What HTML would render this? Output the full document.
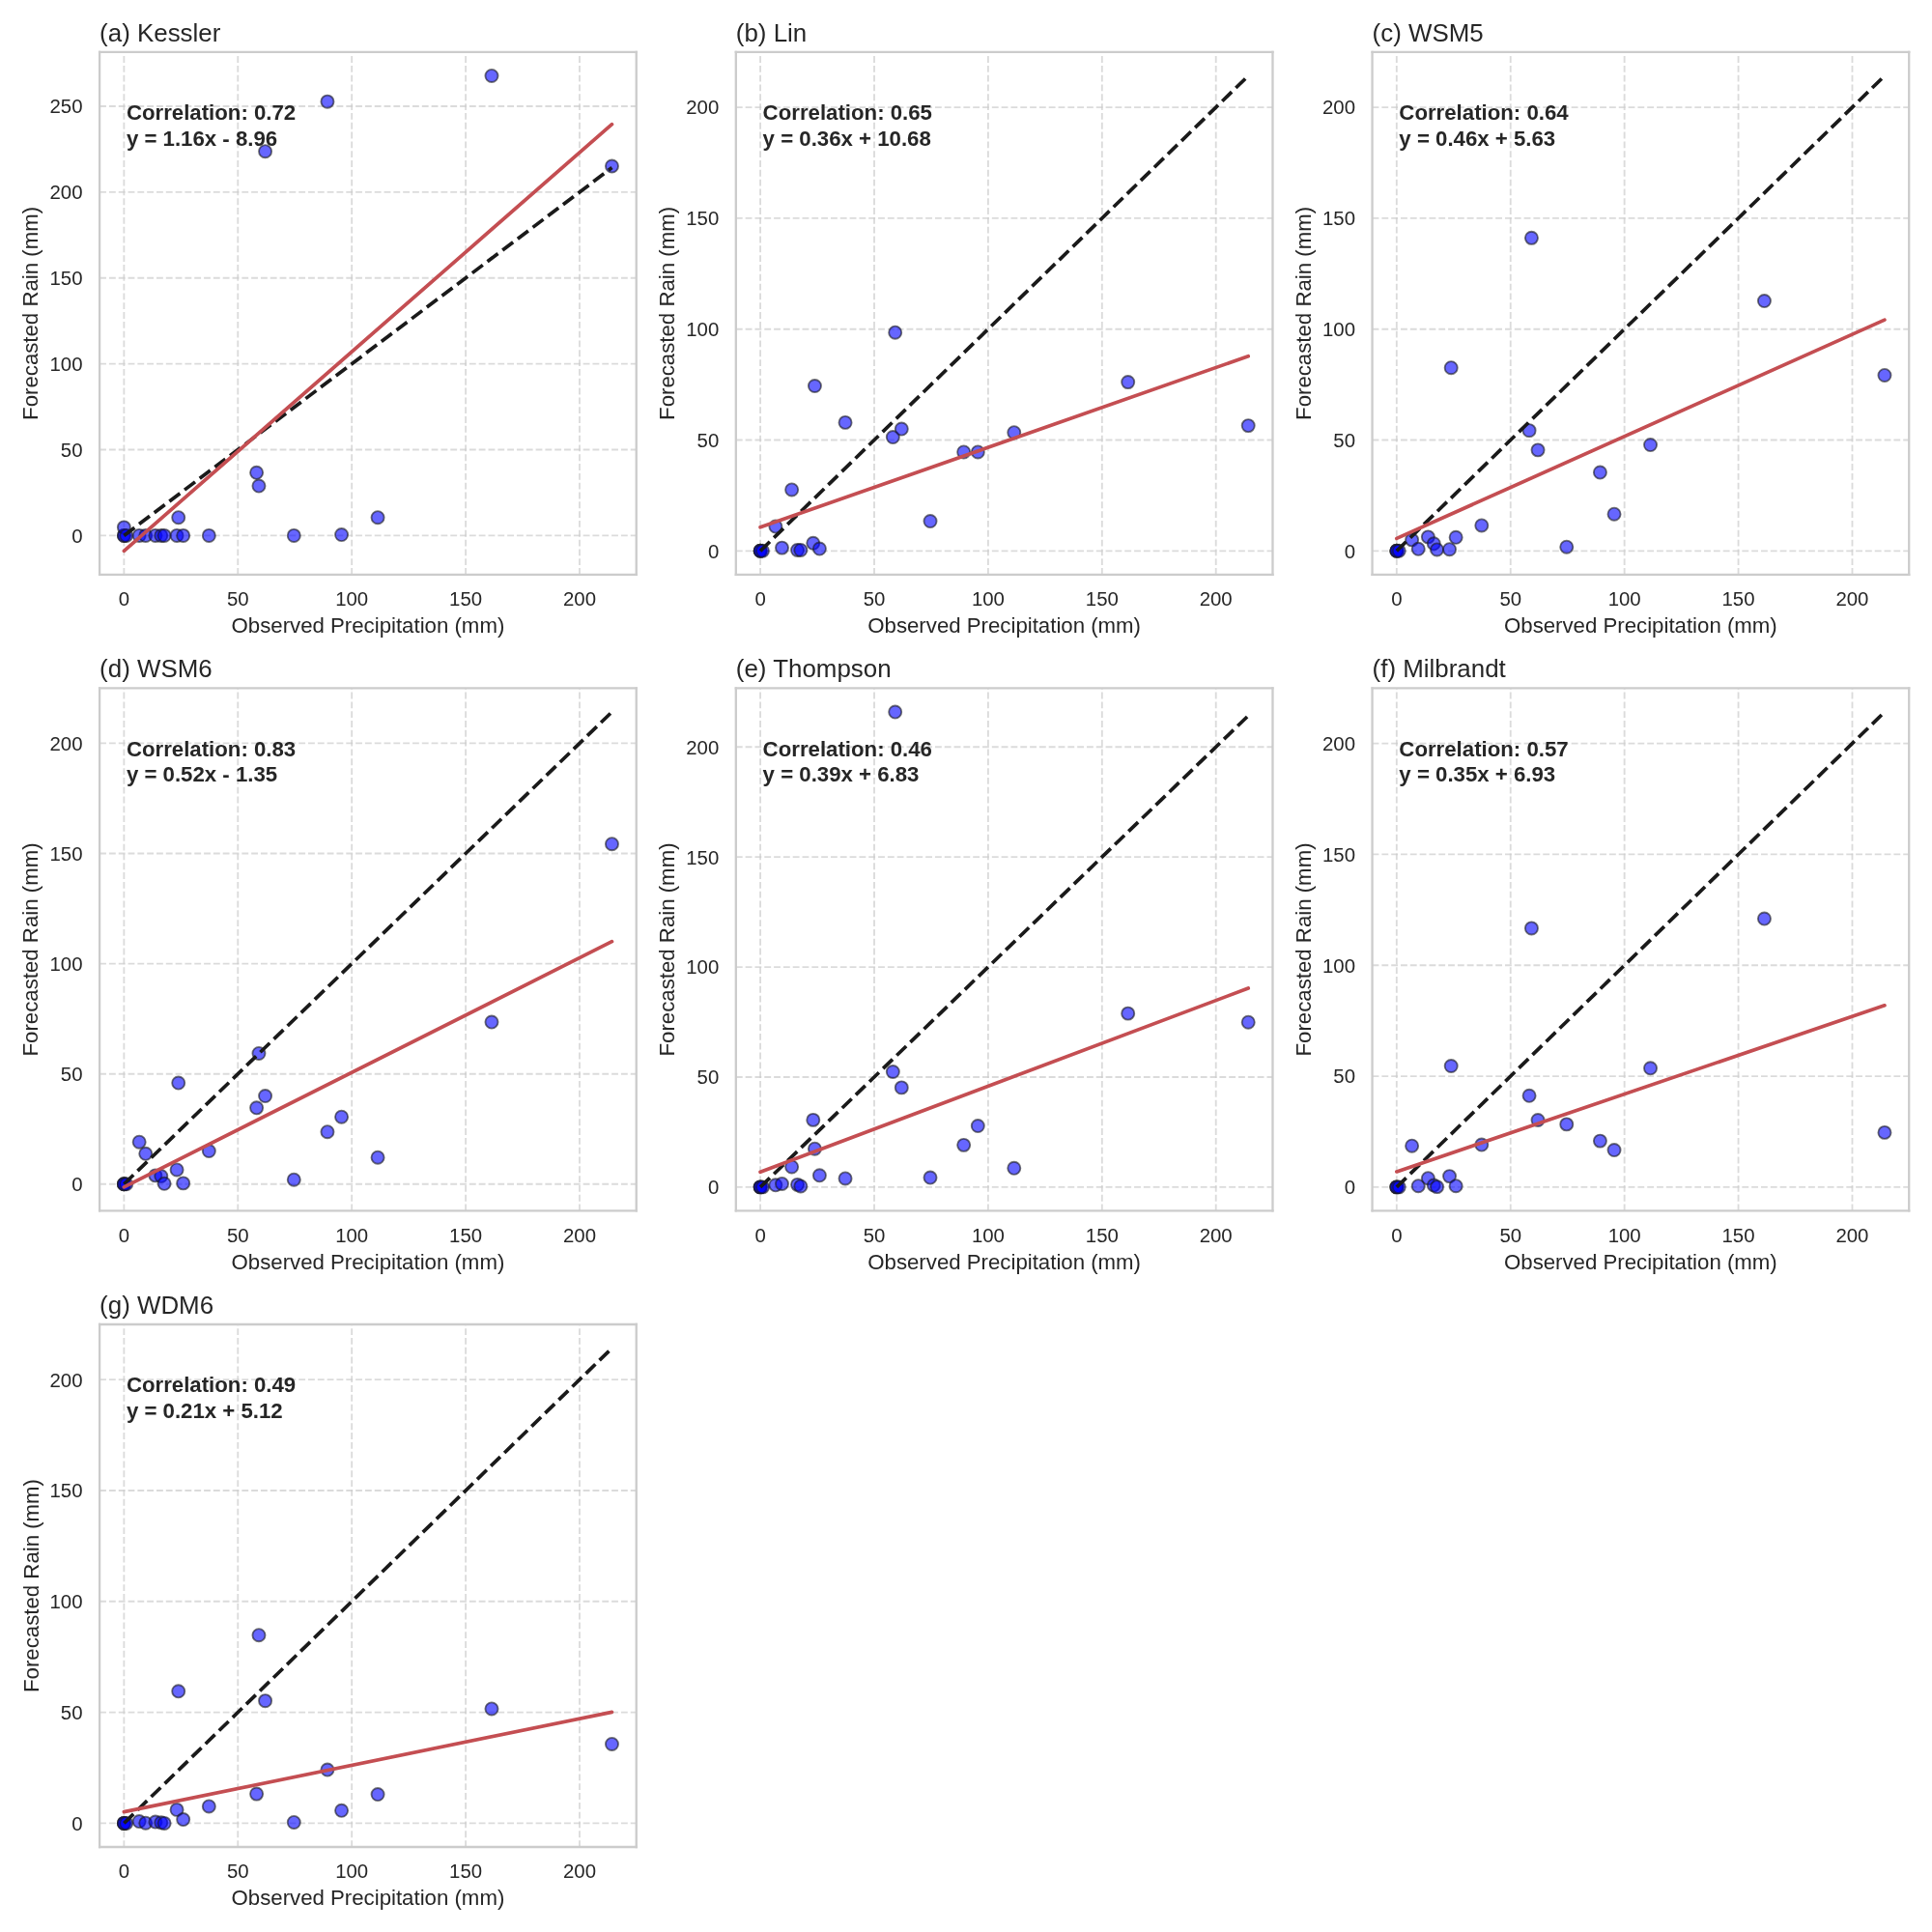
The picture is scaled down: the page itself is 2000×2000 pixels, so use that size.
<!DOCTYPE html>
<html><head><meta charset="utf-8"><title>Precipitation scatter</title>
<style>html,body{margin:0;padding:0;background:#fff;width:2000px;height:2000px;overflow:hidden;font-family:"Liberation Sans",sans-serif}</style></head><body>
<svg width="2000" height="2000" viewBox="0 0 1080 1080" style="display:block;filter:blur(0.4px)">
<defs>
<style type="text/css">*{stroke-linejoin: round; stroke-linecap: butt}</style>
</defs>
<g id="figure_1">
<g id="patch_1">
<path d="M 0 1080
L 1080 1080
L 1080 0
L 0 0
z
" style="fill: #ffffff"/>
</g>
<g id="axes_1">
<g id="patch_2">
<path d="M 55.674 321.261
L 355.714 321.261
L 355.714 29.106
L 55.674 29.106
z
" style="fill: #ffffff"/>
</g>
<g id="matplotlib.axis_1">
<g id="xtick_1">
<g id="line2d_1">
<path d="M 69.312 321.261
L 69.312 29.106
" clip-path="url(#p3a5844b324)" style="fill: none; stroke-dasharray: 3.7,1.6; stroke-dashoffset: 0; stroke: #cccccc; stroke-opacity: 0.7"/>
</g>
<g id="text_1">
<text style="font-size: 11px; font-family: &quot;Liberation Sans&quot;, sans-serif; text-anchor: middle; fill: #262626" x="69.312" y="338.733" transform="rotate(-0 69.312 338.733)">0</text>
</g>
</g>
<g id="xtick_2">
<g id="line2d_2">
<path d="M 132.982 321.261
L 132.982 29.106
" clip-path="url(#p3a5844b324)" style="fill: none; stroke-dasharray: 3.7,1.6; stroke-dashoffset: 0; stroke: #cccccc; stroke-opacity: 0.7"/>
</g>
<g id="text_2">
<text style="font-size: 11px; font-family: &quot;Liberation Sans&quot;, sans-serif; text-anchor: middle; fill: #262626" x="132.982" y="338.733" transform="rotate(-0 132.982 338.733)">50</text>
</g>
</g>
<g id="xtick_3">
<g id="line2d_3">
<path d="M 196.652 321.261
L 196.652 29.106
" clip-path="url(#p3a5844b324)" style="fill: none; stroke-dasharray: 3.7,1.6; stroke-dashoffset: 0; stroke: #cccccc; stroke-opacity: 0.7"/>
</g>
<g id="text_3">
<text style="font-size: 11px; font-family: &quot;Liberation Sans&quot;, sans-serif; text-anchor: middle; fill: #262626" x="196.652" y="338.733" transform="rotate(-0 196.652 338.733)">100</text>
</g>
</g>
<g id="xtick_4">
<g id="line2d_4">
<path d="M 260.323 321.261
L 260.323 29.106
" clip-path="url(#p3a5844b324)" style="fill: none; stroke-dasharray: 3.7,1.6; stroke-dashoffset: 0; stroke: #cccccc; stroke-opacity: 0.7"/>
</g>
<g id="text_4">
<text style="font-size: 11px; font-family: &quot;Liberation Sans&quot;, sans-serif; text-anchor: middle; fill: #262626" x="260.323" y="338.733" transform="rotate(-0 260.323 338.733)">150</text>
</g>
</g>
<g id="xtick_5">
<g id="line2d_5">
<path d="M 323.993 321.261
L 323.993 29.106
" clip-path="url(#p3a5844b324)" style="fill: none; stroke-dasharray: 3.7,1.6; stroke-dashoffset: 0; stroke: #cccccc; stroke-opacity: 0.7"/>
</g>
<g id="text_5">
<text style="font-size: 11px; font-family: &quot;Liberation Sans&quot;, sans-serif; text-anchor: middle; fill: #262626" x="323.993" y="338.733" transform="rotate(-0 323.993 338.733)">200</text>
</g>
</g>
<g id="text_6">
<text style="font-size: 12px; font-family: &quot;Liberation Sans&quot;, sans-serif; text-anchor: middle; fill: #262626" x="205.694" y="353.712" transform="rotate(-0 205.694 353.712)">Observed Precipitation (mm)</text>
</g>
</g>
<g id="matplotlib.axis_2">
<g id="ytick_1">
<g id="line2d_6">
<path d="M 55.674 299.380
L 355.714 299.380
" clip-path="url(#p3a5844b324)" style="fill: none; stroke-dasharray: 3.7,1.6; stroke-dashoffset: 0; stroke: #cccccc; stroke-opacity: 0.7"/>
</g>
<g id="text_7">
<text style="font-size: 11px; font-family: &quot;Liberation Sans&quot;, sans-serif; text-anchor: end; fill: #262626" x="46.174" y="303.366" transform="rotate(-0 46.174 303.366)">0</text>
</g>
</g>
<g id="ytick_2">
<g id="line2d_7">
<path d="M 55.674 251.379
L 355.714 251.379
" clip-path="url(#p3a5844b324)" style="fill: none; stroke-dasharray: 3.7,1.6; stroke-dashoffset: 0; stroke: #cccccc; stroke-opacity: 0.7"/>
</g>
<g id="text_8">
<text style="font-size: 11px; font-family: &quot;Liberation Sans&quot;, sans-serif; text-anchor: end; fill: #262626" x="46.174" y="255.365" transform="rotate(-0 46.174 255.365)">50</text>
</g>
</g>
<g id="ytick_3">
<g id="line2d_8">
<path d="M 55.674 203.379
L 355.714 203.379
" clip-path="url(#p3a5844b324)" style="fill: none; stroke-dasharray: 3.7,1.6; stroke-dashoffset: 0; stroke: #cccccc; stroke-opacity: 0.7"/>
</g>
<g id="text_9">
<text style="font-size: 11px; font-family: &quot;Liberation Sans&quot;, sans-serif; text-anchor: end; fill: #262626" x="46.174" y="207.365" transform="rotate(-0 46.174 207.365)">100</text>
</g>
</g>
<g id="ytick_4">
<g id="line2d_9">
<path d="M 55.674 155.378
L 355.714 155.378
" clip-path="url(#p3a5844b324)" style="fill: none; stroke-dasharray: 3.7,1.6; stroke-dashoffset: 0; stroke: #cccccc; stroke-opacity: 0.7"/>
</g>
<g id="text_10">
<text style="font-size: 11px; font-family: &quot;Liberation Sans&quot;, sans-serif; text-anchor: end; fill: #262626" x="46.174" y="159.364" transform="rotate(-0 46.174 159.364)">150</text>
</g>
</g>
<g id="ytick_5">
<g id="line2d_10">
<path d="M 55.674 107.378
L 355.714 107.378
" clip-path="url(#p3a5844b324)" style="fill: none; stroke-dasharray: 3.7,1.6; stroke-dashoffset: 0; stroke: #cccccc; stroke-opacity: 0.7"/>
</g>
<g id="text_11">
<text style="font-size: 11px; font-family: &quot;Liberation Sans&quot;, sans-serif; text-anchor: end; fill: #262626" x="46.174" y="111.364" transform="rotate(-0 46.174 111.364)">200</text>
</g>
</g>
<g id="ytick_6">
<g id="line2d_11">
<path d="M 55.674 59.377
L 355.714 59.377
" clip-path="url(#p3a5844b324)" style="fill: none; stroke-dasharray: 3.7,1.6; stroke-dashoffset: 0; stroke: #cccccc; stroke-opacity: 0.7"/>
</g>
<g id="text_12">
<text style="font-size: 11px; font-family: &quot;Liberation Sans&quot;, sans-serif; text-anchor: end; fill: #262626" x="46.174" y="63.363" transform="rotate(-0 46.174 63.363)">250</text>
</g>
</g>
<g id="text_13">
<text style="font-size: 12px; font-family: &quot;Liberation Sans&quot;, sans-serif; text-anchor: middle; fill: #262626" x="21.332" y="175.183" transform="rotate(-90 21.332 175.183)">Forecasted Rain (mm)</text>
</g>
</g>
<g id="PathCollection_1">
<defs>
<path id="m00bd419677" d="M 0 3.535
C 0.937 3.535 1.836 3.163 2.5 2.5
C 3.163 1.836 3.535 0.937 3.535 0
C 3.535 -0.937 3.163 -1.836 2.5 -2.5
C 1.836 -3.163 0.937 -3.535 0 -3.535
C -0.937 -3.535 -1.836 -3.163 -2.5 -2.5
C -3.163 -1.836 -3.535 -0.937 -3.535 0
C -3.535 0.937 -3.163 1.836 -2.5 2.5
C -1.836 3.163 -0.937 3.535 0 3.535
z
" style="stroke: #1a1a1a; stroke-opacity: 0.6"/>
</defs>
<g clip-path="url(#p3a5844b324)">
<use href="#m00bd419677" x="69.312" y="299.380" style="fill: #0000ff; fill-opacity: 0.6; stroke: #1a1a1a; stroke-opacity: 0.6"/>
<use href="#m00bd419677" x="69.312" y="299.380" style="fill: #0000ff; fill-opacity: 0.6; stroke: #1a1a1a; stroke-opacity: 0.6"/>
<use href="#m00bd419677" x="69.312" y="294.772" style="fill: #0000ff; fill-opacity: 0.6; stroke: #1a1a1a; stroke-opacity: 0.6"/>
<use href="#m00bd419677" x="70.585" y="299.380" style="fill: #0000ff; fill-opacity: 0.6; stroke: #1a1a1a; stroke-opacity: 0.6"/>
<use href="#m00bd419677" x="77.844" y="299.380" style="fill: #0000ff; fill-opacity: 0.6; stroke: #1a1a1a; stroke-opacity: 0.6"/>
<use href="#m00bd419677" x="81.409" y="299.380" style="fill: #0000ff; fill-opacity: 0.6; stroke: #1a1a1a; stroke-opacity: 0.6"/>
<use href="#m00bd419677" x="86.885" y="299.380" style="fill: #0000ff; fill-opacity: 0.6; stroke: #1a1a1a; stroke-opacity: 0.6"/>
<use href="#m00bd419677" x="90.068" y="299.380" style="fill: #0000ff; fill-opacity: 0.6; stroke: #1a1a1a; stroke-opacity: 0.6"/>
<use href="#m00bd419677" x="91.851" y="299.380" style="fill: #0000ff; fill-opacity: 0.6; stroke: #1a1a1a; stroke-opacity: 0.6"/>
<use href="#m00bd419677" x="98.855" y="299.380" style="fill: #0000ff; fill-opacity: 0.6; stroke: #1a1a1a; stroke-opacity: 0.6"/>
<use href="#m00bd419677" x="99.746" y="289.300" style="fill: #0000ff; fill-opacity: 0.6; stroke: #1a1a1a; stroke-opacity: 0.6"/>
<use href="#m00bd419677" x="102.420" y="299.380" style="fill: #0000ff; fill-opacity: 0.6; stroke: #1a1a1a; stroke-opacity: 0.6"/>
<use href="#m00bd419677" x="116.810" y="299.380" style="fill: #0000ff; fill-opacity: 0.6; stroke: #1a1a1a; stroke-opacity: 0.6"/>
<use href="#m00bd419677" x="143.424" y="264.243" style="fill: #0000ff; fill-opacity: 0.6; stroke: #1a1a1a; stroke-opacity: 0.6"/>
<use href="#m00bd419677" x="144.697" y="271.635" style="fill: #0000ff; fill-opacity: 0.6; stroke: #1a1a1a; stroke-opacity: 0.6"/>
<use href="#m00bd419677" x="148.263" y="84.626" style="fill: #0000ff; fill-opacity: 0.6; stroke: #1a1a1a; stroke-opacity: 0.6"/>
<use href="#m00bd419677" x="164.308" y="299.380" style="fill: #0000ff; fill-opacity: 0.6; stroke: #1a1a1a; stroke-opacity: 0.6"/>
<use href="#m00bd419677" x="183.027" y="56.785" style="fill: #0000ff; fill-opacity: 0.6; stroke: #1a1a1a; stroke-opacity: 0.6"/>
<use href="#m00bd419677" x="190.922" y="298.900" style="fill: #0000ff; fill-opacity: 0.6; stroke: #1a1a1a; stroke-opacity: 0.6"/>
<use href="#m00bd419677" x="211.169" y="289.300" style="fill: #0000ff; fill-opacity: 0.6; stroke: #1a1a1a; stroke-opacity: 0.6"/>
<use href="#m00bd419677" x="274.839" y="42.385" style="fill: #0000ff; fill-opacity: 0.6; stroke: #1a1a1a; stroke-opacity: 0.6"/>
<use href="#m00bd419677" x="342.075" y="92.882" style="fill: #0000ff; fill-opacity: 0.6; stroke: #1a1a1a; stroke-opacity: 0.6"/>
</g>
</g>
<g id="line2d_12">
<path d="M 69.312 299.380
L 342.075 93.746
" clip-path="url(#p3a5844b324)" style="fill: none; stroke-dasharray: 7.4,3.2; stroke-dashoffset: 0; stroke: #1a1a1a; stroke-width: 2"/>
</g>
<g id="line2d_13">
<path d="M 69.312 307.981
L 342.075 69.446
" clip-path="url(#p3a5844b324)" style="fill: none; stroke: #c44e52; stroke-width: 2; stroke-linecap: round"/>
</g>
<g id="patch_3">
<path d="M 55.674 321.261
L 55.674 29.106
" style="fill: none; stroke: #cccccc; stroke-width: 1.25; stroke-linejoin: miter; stroke-linecap: square"/>
</g>
<g id="patch_4">
<path d="M 355.714 321.261
L 355.714 29.106
" style="fill: none; stroke: #cccccc; stroke-width: 1.25; stroke-linejoin: miter; stroke-linecap: square"/>
</g>
<g id="patch_5">
<path d="M 55.674 321.261
L 355.714 321.261
" style="fill: none; stroke: #cccccc; stroke-width: 1.25; stroke-linejoin: miter; stroke-linecap: square"/>
</g>
<g id="patch_6">
<path d="M 55.674 29.106
L 355.714 29.106
" style="fill: none; stroke: #cccccc; stroke-width: 1.25; stroke-linejoin: miter; stroke-linecap: square"/>
</g>
<g id="text_14">
<text style="font-weight: 700; font-size: 12px; font-family: &quot;Liberation Sans&quot;, sans-serif; fill: #262626" transform="translate(70.676 67.017)">Correlation: 0.72</text>
<text style="font-weight: 700; font-size: 12px; font-family: &quot;Liberation Sans&quot;, sans-serif; fill: #262626" transform="translate(70.676 81.403)">y = 1.16x - 8.96</text>
</g>
<g id="text_15">
<text style="font-size: 14px; font-family: &quot;Liberation Sans&quot;, sans-serif; text-anchor: start; fill: #262626" x="55.674" y="23.106" transform="rotate(-0 55.674 23.106)">(a) Kessler</text>
</g>
</g>
<g id="axes_2">
<g id="patch_7">
<path d="M 411.390 321.261
L 711.431 321.261
L 711.431 29.106
L 411.390 29.106
z
" style="fill: #ffffff"/>
</g>
<g id="matplotlib.axis_3">
<g id="xtick_6">
<g id="line2d_14">
<path d="M 425.029 321.261
L 425.029 29.106
" clip-path="url(#p59430c2ce2)" style="fill: none; stroke-dasharray: 3.7,1.6; stroke-dashoffset: 0; stroke: #cccccc; stroke-opacity: 0.7"/>
</g>
<g id="text_16">
<text style="font-size: 11px; font-family: &quot;Liberation Sans&quot;, sans-serif; text-anchor: middle; fill: #262626" x="425.029" y="338.733" transform="rotate(-0 425.029 338.733)">0</text>
</g>
</g>
<g id="xtick_7">
<g id="line2d_15">
<path d="M 488.699 321.261
L 488.699 29.106
" clip-path="url(#p59430c2ce2)" style="fill: none; stroke-dasharray: 3.7,1.6; stroke-dashoffset: 0; stroke: #cccccc; stroke-opacity: 0.7"/>
</g>
<g id="text_17">
<text style="font-size: 11px; font-family: &quot;Liberation Sans&quot;, sans-serif; text-anchor: middle; fill: #262626" x="488.699" y="338.733" transform="rotate(-0 488.699 338.733)">50</text>
</g>
</g>
<g id="xtick_8">
<g id="line2d_16">
<path d="M 552.369 321.261
L 552.369 29.106
" clip-path="url(#p59430c2ce2)" style="fill: none; stroke-dasharray: 3.7,1.6; stroke-dashoffset: 0; stroke: #cccccc; stroke-opacity: 0.7"/>
</g>
<g id="text_18">
<text style="font-size: 11px; font-family: &quot;Liberation Sans&quot;, sans-serif; text-anchor: middle; fill: #262626" x="552.369" y="338.733" transform="rotate(-0 552.369 338.733)">100</text>
</g>
</g>
<g id="xtick_9">
<g id="line2d_17">
<path d="M 616.040 321.261
L 616.040 29.106
" clip-path="url(#p59430c2ce2)" style="fill: none; stroke-dasharray: 3.7,1.6; stroke-dashoffset: 0; stroke: #cccccc; stroke-opacity: 0.7"/>
</g>
<g id="text_19">
<text style="font-size: 11px; font-family: &quot;Liberation Sans&quot;, sans-serif; text-anchor: middle; fill: #262626" x="616.040" y="338.733" transform="rotate(-0 616.040 338.733)">150</text>
</g>
</g>
<g id="xtick_10">
<g id="line2d_18">
<path d="M 679.710 321.261
L 679.710 29.106
" clip-path="url(#p59430c2ce2)" style="fill: none; stroke-dasharray: 3.7,1.6; stroke-dashoffset: 0; stroke: #cccccc; stroke-opacity: 0.7"/>
</g>
<g id="text_20">
<text style="font-size: 11px; font-family: &quot;Liberation Sans&quot;, sans-serif; text-anchor: middle; fill: #262626" x="679.710" y="338.733" transform="rotate(-0 679.710 338.733)">200</text>
</g>
</g>
<g id="text_21">
<text style="font-size: 12px; font-family: &quot;Liberation Sans&quot;, sans-serif; text-anchor: middle; fill: #262626" x="561.411" y="353.712" transform="rotate(-0 561.411 353.712)">Observed Precipitation (mm)</text>
</g>
</g>
<g id="matplotlib.axis_4">
<g id="ytick_7">
<g id="line2d_19">
<path d="M 411.390 307.981
L 711.431 307.981
" clip-path="url(#p59430c2ce2)" style="fill: none; stroke-dasharray: 3.7,1.6; stroke-dashoffset: 0; stroke: #cccccc; stroke-opacity: 0.7"/>
</g>
<g id="text_22">
<text style="font-size: 11px; font-family: &quot;Liberation Sans&quot;, sans-serif; text-anchor: end; fill: #262626" x="401.890" y="311.967" transform="rotate(-0 401.890 311.967)">0</text>
</g>
</g>
<g id="ytick_8">
<g id="line2d_20">
<path d="M 411.390 245.984
L 711.431 245.984
" clip-path="url(#p59430c2ce2)" style="fill: none; stroke-dasharray: 3.7,1.6; stroke-dashoffset: 0; stroke: #cccccc; stroke-opacity: 0.7"/>
</g>
<g id="text_23">
<text style="font-size: 11px; font-family: &quot;Liberation Sans&quot;, sans-serif; text-anchor: end; fill: #262626" x="401.890" y="249.970" transform="rotate(-0 401.890 249.970)">50</text>
</g>
</g>
<g id="ytick_9">
<g id="line2d_21">
<path d="M 411.390 183.987
L 711.431 183.987
" clip-path="url(#p59430c2ce2)" style="fill: none; stroke-dasharray: 3.7,1.6; stroke-dashoffset: 0; stroke: #cccccc; stroke-opacity: 0.7"/>
</g>
<g id="text_24">
<text style="font-size: 11px; font-family: &quot;Liberation Sans&quot;, sans-serif; text-anchor: end; fill: #262626" x="401.890" y="187.973" transform="rotate(-0 401.890 187.973)">100</text>
</g>
</g>
<g id="ytick_10">
<g id="line2d_22">
<path d="M 411.390 121.990
L 711.431 121.990
" clip-path="url(#p59430c2ce2)" style="fill: none; stroke-dasharray: 3.7,1.6; stroke-dashoffset: 0; stroke: #cccccc; stroke-opacity: 0.7"/>
</g>
<g id="text_25">
<text style="font-size: 11px; font-family: &quot;Liberation Sans&quot;, sans-serif; text-anchor: end; fill: #262626" x="401.890" y="125.976" transform="rotate(-0 401.890 125.976)">150</text>
</g>
</g>
<g id="ytick_11">
<g id="line2d_23">
<path d="M 411.390 59.993
L 711.431 59.993
" clip-path="url(#p59430c2ce2)" style="fill: none; stroke-dasharray: 3.7,1.6; stroke-dashoffset: 0; stroke: #cccccc; stroke-opacity: 0.7"/>
</g>
<g id="text_26">
<text style="font-size: 11px; font-family: &quot;Liberation Sans&quot;, sans-serif; text-anchor: end; fill: #262626" x="401.890" y="63.978" transform="rotate(-0 401.890 63.978)">200</text>
</g>
</g>
<g id="text_27">
<text style="font-size: 12px; font-family: &quot;Liberation Sans&quot;, sans-serif; text-anchor: middle; fill: #262626" x="377.049" y="175.183" transform="rotate(-90 377.049 175.183)">Forecasted Rain (mm)</text>
</g>
</g>
<g id="PathCollection_2">
<g clip-path="url(#p59430c2ce2)">
<use href="#m00bd419677" x="425.029" y="307.981" style="fill: #0000ff; fill-opacity: 0.6; stroke: #1a1a1a; stroke-opacity: 0.6"/>
<use href="#m00bd419677" x="425.029" y="307.981" style="fill: #0000ff; fill-opacity: 0.6; stroke: #1a1a1a; stroke-opacity: 0.6"/>
<use href="#m00bd419677" x="425.029" y="307.981" style="fill: #0000ff; fill-opacity: 0.6; stroke: #1a1a1a; stroke-opacity: 0.6"/>
<use href="#m00bd419677" x="426.302" y="307.981" style="fill: #0000ff; fill-opacity: 0.6; stroke: #1a1a1a; stroke-opacity: 0.6"/>
<use href="#m00bd419677" x="433.560" y="294.342" style="fill: #0000ff; fill-opacity: 0.6; stroke: #1a1a1a; stroke-opacity: 0.6"/>
<use href="#m00bd419677" x="437.126" y="306.245" style="fill: #0000ff; fill-opacity: 0.6; stroke: #1a1a1a; stroke-opacity: 0.6"/>
<use href="#m00bd419677" x="442.602" y="273.759" style="fill: #0000ff; fill-opacity: 0.6; stroke: #1a1a1a; stroke-opacity: 0.6"/>
<use href="#m00bd419677" x="445.785" y="307.485" style="fill: #0000ff; fill-opacity: 0.6; stroke: #1a1a1a; stroke-opacity: 0.6"/>
<use href="#m00bd419677" x="447.568" y="307.485" style="fill: #0000ff; fill-opacity: 0.6; stroke: #1a1a1a; stroke-opacity: 0.6"/>
<use href="#m00bd419677" x="454.572" y="303.642" style="fill: #0000ff; fill-opacity: 0.6; stroke: #1a1a1a; stroke-opacity: 0.6"/>
<use href="#m00bd419677" x="455.463" y="215.730" style="fill: #0000ff; fill-opacity: 0.6; stroke: #1a1a1a; stroke-opacity: 0.6"/>
<use href="#m00bd419677" x="458.137" y="306.741" style="fill: #0000ff; fill-opacity: 0.6; stroke: #1a1a1a; stroke-opacity: 0.6"/>
<use href="#m00bd419677" x="472.527" y="236.189" style="fill: #0000ff; fill-opacity: 0.6; stroke: #1a1a1a; stroke-opacity: 0.6"/>
<use href="#m00bd419677" x="499.141" y="244.372" style="fill: #0000ff; fill-opacity: 0.6; stroke: #1a1a1a; stroke-opacity: 0.6"/>
<use href="#m00bd419677" x="500.414" y="185.847" style="fill: #0000ff; fill-opacity: 0.6; stroke: #1a1a1a; stroke-opacity: 0.6"/>
<use href="#m00bd419677" x="503.980" y="239.784" style="fill: #0000ff; fill-opacity: 0.6; stroke: #1a1a1a; stroke-opacity: 0.6"/>
<use href="#m00bd419677" x="520.025" y="291.366" style="fill: #0000ff; fill-opacity: 0.6; stroke: #1a1a1a; stroke-opacity: 0.6"/>
<use href="#m00bd419677" x="538.744" y="252.680" style="fill: #0000ff; fill-opacity: 0.6; stroke: #1a1a1a; stroke-opacity: 0.6"/>
<use href="#m00bd419677" x="546.639" y="252.680" style="fill: #0000ff; fill-opacity: 0.6; stroke: #1a1a1a; stroke-opacity: 0.6"/>
<use href="#m00bd419677" x="566.886" y="241.768" style="fill: #0000ff; fill-opacity: 0.6; stroke: #1a1a1a; stroke-opacity: 0.6"/>
<use href="#m00bd419677" x="630.556" y="213.622" style="fill: #0000ff; fill-opacity: 0.6; stroke: #1a1a1a; stroke-opacity: 0.6"/>
<use href="#m00bd419677" x="697.792" y="237.925" style="fill: #0000ff; fill-opacity: 0.6; stroke: #1a1a1a; stroke-opacity: 0.6"/>
</g>
</g>
<g id="line2d_24">
<path d="M 425.029 307.981
L 697.792 42.385
" clip-path="url(#p59430c2ce2)" style="fill: none; stroke-dasharray: 7.4,3.2; stroke-dashoffset: 0; stroke: #1a1a1a; stroke-width: 2"/>
</g>
<g id="line2d_25">
<path d="M 425.029 294.739
L 697.792 199.124
" clip-path="url(#p59430c2ce2)" style="fill: none; stroke: #c44e52; stroke-width: 2; stroke-linecap: round"/>
</g>
<g id="patch_8">
<path d="M 411.390 321.261
L 411.390 29.106
" style="fill: none; stroke: #cccccc; stroke-width: 1.25; stroke-linejoin: miter; stroke-linecap: square"/>
</g>
<g id="patch_9">
<path d="M 711.431 321.261
L 711.431 29.106
" style="fill: none; stroke: #cccccc; stroke-width: 1.25; stroke-linejoin: miter; stroke-linecap: square"/>
</g>
<g id="patch_10">
<path d="M 411.390 321.261
L 711.431 321.261
" style="fill: none; stroke: #cccccc; stroke-width: 1.25; stroke-linejoin: miter; stroke-linecap: square"/>
</g>
<g id="patch_11">
<path d="M 411.390 29.106
L 711.431 29.106
" style="fill: none; stroke: #cccccc; stroke-width: 1.25; stroke-linejoin: miter; stroke-linecap: square"/>
</g>
<g id="text_28">
<text style="font-weight: 700; font-size: 12px; font-family: &quot;Liberation Sans&quot;, sans-serif; fill: #262626" transform="translate(426.392 67.017)">Correlation: 0.65</text>
<text style="font-weight: 700; font-size: 12px; font-family: &quot;Liberation Sans&quot;, sans-serif; fill: #262626" transform="translate(426.392 81.403)">y = 0.36x + 10.68</text>
</g>
<g id="text_29">
<text style="font-size: 14px; font-family: &quot;Liberation Sans&quot;, sans-serif; text-anchor: start; fill: #262626" x="411.390" y="23.106" transform="rotate(-0 411.390 23.106)">(b) Lin</text>
</g>
</g>
<g id="axes_3">
<g id="patch_12">
<path d="M 767.107 321.261
L 1067.148 321.261
L 1067.148 29.106
L 767.107 29.106
z
" style="fill: #ffffff"/>
</g>
<g id="matplotlib.axis_5">
<g id="xtick_11">
<g id="line2d_26">
<path d="M 780.746 321.261
L 780.746 29.106
" clip-path="url(#p351b5c5604)" style="fill: none; stroke-dasharray: 3.7,1.6; stroke-dashoffset: 0; stroke: #cccccc; stroke-opacity: 0.7"/>
</g>
<g id="text_30">
<text style="font-size: 11px; font-family: &quot;Liberation Sans&quot;, sans-serif; text-anchor: middle; fill: #262626" x="780.746" y="338.733" transform="rotate(-0 780.746 338.733)">0</text>
</g>
</g>
<g id="xtick_12">
<g id="line2d_27">
<path d="M 844.416 321.261
L 844.416 29.106
" clip-path="url(#p351b5c5604)" style="fill: none; stroke-dasharray: 3.7,1.6; stroke-dashoffset: 0; stroke: #cccccc; stroke-opacity: 0.7"/>
</g>
<g id="text_31">
<text style="font-size: 11px; font-family: &quot;Liberation Sans&quot;, sans-serif; text-anchor: middle; fill: #262626" x="844.416" y="338.733" transform="rotate(-0 844.416 338.733)">50</text>
</g>
</g>
<g id="xtick_13">
<g id="line2d_28">
<path d="M 908.086 321.261
L 908.086 29.106
" clip-path="url(#p351b5c5604)" style="fill: none; stroke-dasharray: 3.7,1.6; stroke-dashoffset: 0; stroke: #cccccc; stroke-opacity: 0.7"/>
</g>
<g id="text_32">
<text style="font-size: 11px; font-family: &quot;Liberation Sans&quot;, sans-serif; text-anchor: middle; fill: #262626" x="908.086" y="338.733" transform="rotate(-0 908.086 338.733)">100</text>
</g>
</g>
<g id="xtick_14">
<g id="line2d_29">
<path d="M 971.757 321.261
L 971.757 29.106
" clip-path="url(#p351b5c5604)" style="fill: none; stroke-dasharray: 3.7,1.6; stroke-dashoffset: 0; stroke: #cccccc; stroke-opacity: 0.7"/>
</g>
<g id="text_33">
<text style="font-size: 11px; font-family: &quot;Liberation Sans&quot;, sans-serif; text-anchor: middle; fill: #262626" x="971.757" y="338.733" transform="rotate(-0 971.757 338.733)">150</text>
</g>
</g>
<g id="xtick_15">
<g id="line2d_30">
<path d="M 1035.427 321.261
L 1035.427 29.106
" clip-path="url(#p351b5c5604)" style="fill: none; stroke-dasharray: 3.7,1.6; stroke-dashoffset: 0; stroke: #cccccc; stroke-opacity: 0.7"/>
</g>
<g id="text_34">
<text style="font-size: 11px; font-family: &quot;Liberation Sans&quot;, sans-serif; text-anchor: middle; fill: #262626" x="1035.427" y="338.733" transform="rotate(-0 1035.427 338.733)">200</text>
</g>
</g>
<g id="text_35">
<text style="font-size: 12px; font-family: &quot;Liberation Sans&quot;, sans-serif; text-anchor: middle; fill: #262626" x="917.127" y="353.712" transform="rotate(-0 917.127 353.712)">Observed Precipitation (mm)</text>
</g>
</g>
<g id="matplotlib.axis_6">
<g id="ytick_12">
<g id="line2d_31">
<path d="M 767.107 307.981
L 1067.148 307.981
" clip-path="url(#p351b5c5604)" style="fill: none; stroke-dasharray: 3.7,1.6; stroke-dashoffset: 0; stroke: #cccccc; stroke-opacity: 0.7"/>
</g>
<g id="text_36">
<text style="font-size: 11px; font-family: &quot;Liberation Sans&quot;, sans-serif; text-anchor: end; fill: #262626" x="757.607" y="311.967" transform="rotate(-0 757.607 311.967)">0</text>
</g>
</g>
<g id="ytick_13">
<g id="line2d_32">
<path d="M 767.107 245.984
L 1067.148 245.984
" clip-path="url(#p351b5c5604)" style="fill: none; stroke-dasharray: 3.7,1.6; stroke-dashoffset: 0; stroke: #cccccc; stroke-opacity: 0.7"/>
</g>
<g id="text_37">
<text style="font-size: 11px; font-family: &quot;Liberation Sans&quot;, sans-serif; text-anchor: end; fill: #262626" x="757.607" y="249.970" transform="rotate(-0 757.607 249.970)">50</text>
</g>
</g>
<g id="ytick_14">
<g id="line2d_33">
<path d="M 767.107 183.987
L 1067.148 183.987
" clip-path="url(#p351b5c5604)" style="fill: none; stroke-dasharray: 3.7,1.6; stroke-dashoffset: 0; stroke: #cccccc; stroke-opacity: 0.7"/>
</g>
<g id="text_38">
<text style="font-size: 11px; font-family: &quot;Liberation Sans&quot;, sans-serif; text-anchor: end; fill: #262626" x="757.607" y="187.973" transform="rotate(-0 757.607 187.973)">100</text>
</g>
</g>
<g id="ytick_15">
<g id="line2d_34">
<path d="M 767.107 121.990
L 1067.148 121.990
" clip-path="url(#p351b5c5604)" style="fill: none; stroke-dasharray: 3.7,1.6; stroke-dashoffset: 0; stroke: #cccccc; stroke-opacity: 0.7"/>
</g>
<g id="text_39">
<text style="font-size: 11px; font-family: &quot;Liberation Sans&quot;, sans-serif; text-anchor: end; fill: #262626" x="757.607" y="125.976" transform="rotate(-0 757.607 125.976)">150</text>
</g>
</g>
<g id="ytick_16">
<g id="line2d_35">
<path d="M 767.107 59.993
L 1067.148 59.993
" clip-path="url(#p351b5c5604)" style="fill: none; stroke-dasharray: 3.7,1.6; stroke-dashoffset: 0; stroke: #cccccc; stroke-opacity: 0.7"/>
</g>
<g id="text_40">
<text style="font-size: 11px; font-family: &quot;Liberation Sans&quot;, sans-serif; text-anchor: end; fill: #262626" x="757.607" y="63.978" transform="rotate(-0 757.607 63.978)">200</text>
</g>
</g>
<g id="text_41">
<text style="font-size: 12px; font-family: &quot;Liberation Sans&quot;, sans-serif; text-anchor: middle; fill: #262626" x="732.766" y="175.183" transform="rotate(-90 732.766 175.183)">Forecasted Rain (mm)</text>
</g>
</g>
<g id="PathCollection_3">
<g clip-path="url(#p351b5c5604)">
<use href="#m00bd419677" x="780.746" y="307.981" style="fill: #0000ff; fill-opacity: 0.6; stroke: #1a1a1a; stroke-opacity: 0.6"/>
<use href="#m00bd419677" x="780.746" y="307.981" style="fill: #0000ff; fill-opacity: 0.6; stroke: #1a1a1a; stroke-opacity: 0.6"/>
<use href="#m00bd419677" x="780.746" y="307.981" style="fill: #0000ff; fill-opacity: 0.6; stroke: #1a1a1a; stroke-opacity: 0.6"/>
<use href="#m00bd419677" x="782.019" y="307.981" style="fill: #0000ff; fill-opacity: 0.6; stroke: #1a1a1a; stroke-opacity: 0.6"/>
<use href="#m00bd419677" x="789.277" y="301.782" style="fill: #0000ff; fill-opacity: 0.6; stroke: #1a1a1a; stroke-opacity: 0.6"/>
<use href="#m00bd419677" x="792.843" y="306.865" style="fill: #0000ff; fill-opacity: 0.6; stroke: #1a1a1a; stroke-opacity: 0.6"/>
<use href="#m00bd419677" x="798.319" y="300.170" style="fill: #0000ff; fill-opacity: 0.6; stroke: #1a1a1a; stroke-opacity: 0.6"/>
<use href="#m00bd419677" x="801.502" y="303.890" style="fill: #0000ff; fill-opacity: 0.6; stroke: #1a1a1a; stroke-opacity: 0.6"/>
<use href="#m00bd419677" x="803.285" y="307.237" style="fill: #0000ff; fill-opacity: 0.6; stroke: #1a1a1a; stroke-opacity: 0.6"/>
<use href="#m00bd419677" x="810.289" y="307.113" style="fill: #0000ff; fill-opacity: 0.6; stroke: #1a1a1a; stroke-opacity: 0.6"/>
<use href="#m00bd419677" x="811.180" y="205.562" style="fill: #0000ff; fill-opacity: 0.6; stroke: #1a1a1a; stroke-opacity: 0.6"/>
<use href="#m00bd419677" x="813.854" y="300.418" style="fill: #0000ff; fill-opacity: 0.6; stroke: #1a1a1a; stroke-opacity: 0.6"/>
<use href="#m00bd419677" x="828.244" y="293.722" style="fill: #0000ff; fill-opacity: 0.6; stroke: #1a1a1a; stroke-opacity: 0.6"/>
<use href="#m00bd419677" x="854.858" y="240.652" style="fill: #0000ff; fill-opacity: 0.6; stroke: #1a1a1a; stroke-opacity: 0.6"/>
<use href="#m00bd419677" x="856.131" y="133.025" style="fill: #0000ff; fill-opacity: 0.6; stroke: #1a1a1a; stroke-opacity: 0.6"/>
<use href="#m00bd419677" x="859.697" y="251.564" style="fill: #0000ff; fill-opacity: 0.6; stroke: #1a1a1a; stroke-opacity: 0.6"/>
<use href="#m00bd419677" x="875.742" y="305.750" style="fill: #0000ff; fill-opacity: 0.6; stroke: #1a1a1a; stroke-opacity: 0.6"/>
<use href="#m00bd419677" x="894.461" y="264.087" style="fill: #0000ff; fill-opacity: 0.6; stroke: #1a1a1a; stroke-opacity: 0.6"/>
<use href="#m00bd419677" x="902.356" y="287.398" style="fill: #0000ff; fill-opacity: 0.6; stroke: #1a1a1a; stroke-opacity: 0.6"/>
<use href="#m00bd419677" x="922.603" y="248.712" style="fill: #0000ff; fill-opacity: 0.6; stroke: #1a1a1a; stroke-opacity: 0.6"/>
<use href="#m00bd419677" x="986.273" y="168.240" style="fill: #0000ff; fill-opacity: 0.6; stroke: #1a1a1a; stroke-opacity: 0.6"/>
<use href="#m00bd419677" x="1053.509" y="209.778" style="fill: #0000ff; fill-opacity: 0.6; stroke: #1a1a1a; stroke-opacity: 0.6"/>
</g>
</g>
<g id="line2d_36">
<path d="M 780.746 307.981
L 1053.509 42.385
" clip-path="url(#p351b5c5604)" style="fill: none; stroke-dasharray: 7.4,3.2; stroke-dashoffset: 0; stroke: #1a1a1a; stroke-width: 2"/>
</g>
<g id="line2d_37">
<path d="M 780.746 301.001
L 1053.509 178.826
" clip-path="url(#p351b5c5604)" style="fill: none; stroke: #c44e52; stroke-width: 2; stroke-linecap: round"/>
</g>
<g id="patch_13">
<path d="M 767.107 321.261
L 767.107 29.106
" style="fill: none; stroke: #cccccc; stroke-width: 1.25; stroke-linejoin: miter; stroke-linecap: square"/>
</g>
<g id="patch_14">
<path d="M 1067.148 321.261
L 1067.148 29.106
" style="fill: none; stroke: #cccccc; stroke-width: 1.25; stroke-linejoin: miter; stroke-linecap: square"/>
</g>
<g id="patch_15">
<path d="M 767.107 321.261
L 1067.148 321.261
" style="fill: none; stroke: #cccccc; stroke-width: 1.25; stroke-linejoin: miter; stroke-linecap: square"/>
</g>
<g id="patch_16">
<path d="M 767.107 29.106
L 1067.148 29.106
" style="fill: none; stroke: #cccccc; stroke-width: 1.25; stroke-linejoin: miter; stroke-linecap: square"/>
</g>
<g id="text_42">
<text style="font-weight: 700; font-size: 12px; font-family: &quot;Liberation Sans&quot;, sans-serif; fill: #262626" transform="translate(782.109 67.017)">Correlation: 0.64</text>
<text style="font-weight: 700; font-size: 12px; font-family: &quot;Liberation Sans&quot;, sans-serif; fill: #262626" transform="translate(782.109 81.403)">y = 0.46x + 5.63</text>
</g>
<g id="text_43">
<text style="font-size: 14px; font-family: &quot;Liberation Sans&quot;, sans-serif; text-anchor: start; fill: #262626" x="767.107" y="23.106" transform="rotate(-0 767.107 23.106)">(c) WSM5</text>
</g>
</g>
<g id="axes_4">
<g id="patch_17">
<path d="M 55.674 676.870
L 355.714 676.870
L 355.714 384.715
L 55.674 384.715
z
" style="fill: #ffffff"/>
</g>
<g id="matplotlib.axis_7">
<g id="xtick_16">
<g id="line2d_38">
<path d="M 69.312 676.870
L 69.312 384.715
" clip-path="url(#p59bc74c339)" style="fill: none; stroke-dasharray: 3.7,1.6; stroke-dashoffset: 0; stroke: #cccccc; stroke-opacity: 0.7"/>
</g>
<g id="text_44">
<text style="font-size: 11px; font-family: &quot;Liberation Sans&quot;, sans-serif; text-anchor: middle; fill: #262626" x="69.312" y="694.342" transform="rotate(-0 69.312 694.342)">0</text>
</g>
</g>
<g id="xtick_17">
<g id="line2d_39">
<path d="M 132.982 676.870
L 132.982 384.715
" clip-path="url(#p59bc74c339)" style="fill: none; stroke-dasharray: 3.7,1.6; stroke-dashoffset: 0; stroke: #cccccc; stroke-opacity: 0.7"/>
</g>
<g id="text_45">
<text style="font-size: 11px; font-family: &quot;Liberation Sans&quot;, sans-serif; text-anchor: middle; fill: #262626" x="132.982" y="694.342" transform="rotate(-0 132.982 694.342)">50</text>
</g>
</g>
<g id="xtick_18">
<g id="line2d_40">
<path d="M 196.652 676.870
L 196.652 384.715
" clip-path="url(#p59bc74c339)" style="fill: none; stroke-dasharray: 3.7,1.6; stroke-dashoffset: 0; stroke: #cccccc; stroke-opacity: 0.7"/>
</g>
<g id="text_46">
<text style="font-size: 11px; font-family: &quot;Liberation Sans&quot;, sans-serif; text-anchor: middle; fill: #262626" x="196.652" y="694.342" transform="rotate(-0 196.652 694.342)">100</text>
</g>
</g>
<g id="xtick_19">
<g id="line2d_41">
<path d="M 260.323 676.870
L 260.323 384.715
" clip-path="url(#p59bc74c339)" style="fill: none; stroke-dasharray: 3.7,1.6; stroke-dashoffset: 0; stroke: #cccccc; stroke-opacity: 0.7"/>
</g>
<g id="text_47">
<text style="font-size: 11px; font-family: &quot;Liberation Sans&quot;, sans-serif; text-anchor: middle; fill: #262626" x="260.323" y="694.342" transform="rotate(-0 260.323 694.342)">150</text>
</g>
</g>
<g id="xtick_20">
<g id="line2d_42">
<path d="M 323.993 676.870
L 323.993 384.715
" clip-path="url(#p59bc74c339)" style="fill: none; stroke-dasharray: 3.7,1.6; stroke-dashoffset: 0; stroke: #cccccc; stroke-opacity: 0.7"/>
</g>
<g id="text_48">
<text style="font-size: 11px; font-family: &quot;Liberation Sans&quot;, sans-serif; text-anchor: middle; fill: #262626" x="323.993" y="694.342" transform="rotate(-0 323.993 694.342)">200</text>
</g>
</g>
<g id="text_49">
<text style="font-size: 12px; font-family: &quot;Liberation Sans&quot;, sans-serif; text-anchor: middle; fill: #262626" x="205.694" y="709.321" transform="rotate(-0 205.694 709.321)">Observed Precipitation (mm)</text>
</g>
</g>
<g id="matplotlib.axis_8">
<g id="ytick_17">
<g id="line2d_43">
<path d="M 55.674 661.927
L 355.714 661.927
" clip-path="url(#p59bc74c339)" style="fill: none; stroke-dasharray: 3.7,1.6; stroke-dashoffset: 0; stroke: #cccccc; stroke-opacity: 0.7"/>
</g>
<g id="text_50">
<text style="font-size: 11px; font-family: &quot;Liberation Sans&quot;, sans-serif; text-anchor: end; fill: #262626" x="46.174" y="665.913" transform="rotate(-0 46.174 665.913)">0</text>
</g>
</g>
<g id="ytick_18">
<g id="line2d_44">
<path d="M 55.674 600.318
L 355.714 600.318
" clip-path="url(#p59bc74c339)" style="fill: none; stroke-dasharray: 3.7,1.6; stroke-dashoffset: 0; stroke: #cccccc; stroke-opacity: 0.7"/>
</g>
<g id="text_51">
<text style="font-size: 11px; font-family: &quot;Liberation Sans&quot;, sans-serif; text-anchor: end; fill: #262626" x="46.174" y="604.304" transform="rotate(-0 46.174 604.304)">50</text>
</g>
</g>
<g id="ytick_19">
<g id="line2d_45">
<path d="M 55.674 538.709
L 355.714 538.709
" clip-path="url(#p59bc74c339)" style="fill: none; stroke-dasharray: 3.7,1.6; stroke-dashoffset: 0; stroke: #cccccc; stroke-opacity: 0.7"/>
</g>
<g id="text_52">
<text style="font-size: 11px; font-family: &quot;Liberation Sans&quot;, sans-serif; text-anchor: end; fill: #262626" x="46.174" y="542.695" transform="rotate(-0 46.174 542.695)">100</text>
</g>
</g>
<g id="ytick_20">
<g id="line2d_46">
<path d="M 55.674 477.100
L 355.714 477.100
" clip-path="url(#p59bc74c339)" style="fill: none; stroke-dasharray: 3.7,1.6; stroke-dashoffset: 0; stroke: #cccccc; stroke-opacity: 0.7"/>
</g>
<g id="text_53">
<text style="font-size: 11px; font-family: &quot;Liberation Sans&quot;, sans-serif; text-anchor: end; fill: #262626" x="46.174" y="481.086" transform="rotate(-0 46.174 481.086)">150</text>
</g>
</g>
<g id="ytick_21">
<g id="line2d_47">
<path d="M 55.674 415.491
L 355.714 415.491
" clip-path="url(#p59bc74c339)" style="fill: none; stroke-dasharray: 3.7,1.6; stroke-dashoffset: 0; stroke: #cccccc; stroke-opacity: 0.7"/>
</g>
<g id="text_54">
<text style="font-size: 11px; font-family: &quot;Liberation Sans&quot;, sans-serif; text-anchor: end; fill: #262626" x="46.174" y="419.477" transform="rotate(-0 46.174 419.477)">200</text>
</g>
</g>
<g id="text_55">
<text style="font-size: 12px; font-family: &quot;Liberation Sans&quot;, sans-serif; text-anchor: middle; fill: #262626" x="21.332" y="530.793" transform="rotate(-90 21.332 530.793)">Forecasted Rain (mm)</text>
</g>
</g>
<g id="PathCollection_4">
<g clip-path="url(#p59bc74c339)">
<use href="#m00bd419677" x="69.312" y="661.927" style="fill: #0000ff; fill-opacity: 0.6; stroke: #1a1a1a; stroke-opacity: 0.6"/>
<use href="#m00bd419677" x="69.312" y="661.927" style="fill: #0000ff; fill-opacity: 0.6; stroke: #1a1a1a; stroke-opacity: 0.6"/>
<use href="#m00bd419677" x="69.312" y="661.927" style="fill: #0000ff; fill-opacity: 0.6; stroke: #1a1a1a; stroke-opacity: 0.6"/>
<use href="#m00bd419677" x="70.585" y="661.927" style="fill: #0000ff; fill-opacity: 0.6; stroke: #1a1a1a; stroke-opacity: 0.6"/>
<use href="#m00bd419677" x="77.844" y="638.393" style="fill: #0000ff; fill-opacity: 0.6; stroke: #1a1a1a; stroke-opacity: 0.6"/>
<use href="#m00bd419677" x="81.409" y="644.923" style="fill: #0000ff; fill-opacity: 0.6; stroke: #1a1a1a; stroke-opacity: 0.6"/>
<use href="#m00bd419677" x="86.885" y="657.122" style="fill: #0000ff; fill-opacity: 0.6; stroke: #1a1a1a; stroke-opacity: 0.6"/>
<use href="#m00bd419677" x="90.068" y="657.491" style="fill: #0000ff; fill-opacity: 0.6; stroke: #1a1a1a; stroke-opacity: 0.6"/>
<use href="#m00bd419677" x="91.851" y="661.681" style="fill: #0000ff; fill-opacity: 0.6; stroke: #1a1a1a; stroke-opacity: 0.6"/>
<use href="#m00bd419677" x="98.855" y="653.918" style="fill: #0000ff; fill-opacity: 0.6; stroke: #1a1a1a; stroke-opacity: 0.6"/>
<use href="#m00bd419677" x="99.746" y="605.370" style="fill: #0000ff; fill-opacity: 0.6; stroke: #1a1a1a; stroke-opacity: 0.6"/>
<use href="#m00bd419677" x="102.420" y="661.434" style="fill: #0000ff; fill-opacity: 0.6; stroke: #1a1a1a; stroke-opacity: 0.6"/>
<use href="#m00bd419677" x="116.810" y="643.444" style="fill: #0000ff; fill-opacity: 0.6; stroke: #1a1a1a; stroke-opacity: 0.6"/>
<use href="#m00bd419677" x="143.424" y="619.294" style="fill: #0000ff; fill-opacity: 0.6; stroke: #1a1a1a; stroke-opacity: 0.6"/>
<use href="#m00bd419677" x="144.697" y="588.859" style="fill: #0000ff; fill-opacity: 0.6; stroke: #1a1a1a; stroke-opacity: 0.6"/>
<use href="#m00bd419677" x="148.263" y="612.640" style="fill: #0000ff; fill-opacity: 0.6; stroke: #1a1a1a; stroke-opacity: 0.6"/>
<use href="#m00bd419677" x="164.308" y="659.463" style="fill: #0000ff; fill-opacity: 0.6; stroke: #1a1a1a; stroke-opacity: 0.6"/>
<use href="#m00bd419677" x="183.027" y="632.724" style="fill: #0000ff; fill-opacity: 0.6; stroke: #1a1a1a; stroke-opacity: 0.6"/>
<use href="#m00bd419677" x="190.922" y="624.346" style="fill: #0000ff; fill-opacity: 0.6; stroke: #1a1a1a; stroke-opacity: 0.6"/>
<use href="#m00bd419677" x="211.169" y="647.018" style="fill: #0000ff; fill-opacity: 0.6; stroke: #1a1a1a; stroke-opacity: 0.6"/>
<use href="#m00bd419677" x="274.839" y="571.362" style="fill: #0000ff; fill-opacity: 0.6; stroke: #1a1a1a; stroke-opacity: 0.6"/>
<use href="#m00bd419677" x="342.075" y="471.802" style="fill: #0000ff; fill-opacity: 0.6; stroke: #1a1a1a; stroke-opacity: 0.6"/>
</g>
</g>
<g id="line2d_48">
<path d="M 69.312 661.927
L 342.075 397.994
" clip-path="url(#p59bc74c339)" style="fill: none; stroke-dasharray: 7.4,3.2; stroke-dashoffset: 0; stroke: #1a1a1a; stroke-width: 2"/>
</g>
<g id="line2d_49">
<path d="M 69.312 663.591
L 342.075 526.346
" clip-path="url(#p59bc74c339)" style="fill: none; stroke: #c44e52; stroke-width: 2; stroke-linecap: round"/>
</g>
<g id="patch_18">
<path d="M 55.674 676.870
L 55.674 384.715
" style="fill: none; stroke: #cccccc; stroke-width: 1.25; stroke-linejoin: miter; stroke-linecap: square"/>
</g>
<g id="patch_19">
<path d="M 355.714 676.870
L 355.714 384.715
" style="fill: none; stroke: #cccccc; stroke-width: 1.25; stroke-linejoin: miter; stroke-linecap: square"/>
</g>
<g id="patch_20">
<path d="M 55.674 676.870
L 355.714 676.870
" style="fill: none; stroke: #cccccc; stroke-width: 1.25; stroke-linejoin: miter; stroke-linecap: square"/>
</g>
<g id="patch_21">
<path d="M 55.674 384.715
L 355.714 384.715
" style="fill: none; stroke: #cccccc; stroke-width: 1.25; stroke-linejoin: miter; stroke-linecap: square"/>
</g>
<g id="text_56">
<text style="font-weight: 700; font-size: 12px; font-family: &quot;Liberation Sans&quot;, sans-serif; fill: #262626" transform="translate(70.676 422.626)">Correlation: 0.83</text>
<text style="font-weight: 700; font-size: 12px; font-family: &quot;Liberation Sans&quot;, sans-serif; fill: #262626" transform="translate(70.676 437.012)">y = 0.52x - 1.35</text>
</g>
<g id="text_57">
<text style="font-size: 14px; font-family: &quot;Liberation Sans&quot;, sans-serif; text-anchor: start; fill: #262626" x="55.674" y="378.715" transform="rotate(-0 55.674 378.715)">(d) WSM6</text>
</g>
</g>
<g id="axes_5">
<g id="patch_22">
<path d="M 411.390 676.870
L 711.431 676.870
L 711.431 384.715
L 411.390 384.715
z
" style="fill: #ffffff"/>
</g>
<g id="matplotlib.axis_9">
<g id="xtick_21">
<g id="line2d_50">
<path d="M 425.029 676.870
L 425.029 384.715
" clip-path="url(#pccd5e48ada)" style="fill: none; stroke-dasharray: 3.7,1.6; stroke-dashoffset: 0; stroke: #cccccc; stroke-opacity: 0.7"/>
</g>
<g id="text_58">
<text style="font-size: 11px; font-family: &quot;Liberation Sans&quot;, sans-serif; text-anchor: middle; fill: #262626" x="425.029" y="694.342" transform="rotate(-0 425.029 694.342)">0</text>
</g>
</g>
<g id="xtick_22">
<g id="line2d_51">
<path d="M 488.699 676.870
L 488.699 384.715
" clip-path="url(#pccd5e48ada)" style="fill: none; stroke-dasharray: 3.7,1.6; stroke-dashoffset: 0; stroke: #cccccc; stroke-opacity: 0.7"/>
</g>
<g id="text_59">
<text style="font-size: 11px; font-family: &quot;Liberation Sans&quot;, sans-serif; text-anchor: middle; fill: #262626" x="488.699" y="694.342" transform="rotate(-0 488.699 694.342)">50</text>
</g>
</g>
<g id="xtick_23">
<g id="line2d_52">
<path d="M 552.369 676.870
L 552.369 384.715
" clip-path="url(#pccd5e48ada)" style="fill: none; stroke-dasharray: 3.7,1.6; stroke-dashoffset: 0; stroke: #cccccc; stroke-opacity: 0.7"/>
</g>
<g id="text_60">
<text style="font-size: 11px; font-family: &quot;Liberation Sans&quot;, sans-serif; text-anchor: middle; fill: #262626" x="552.369" y="694.342" transform="rotate(-0 552.369 694.342)">100</text>
</g>
</g>
<g id="xtick_24">
<g id="line2d_53">
<path d="M 616.040 676.870
L 616.040 384.715
" clip-path="url(#pccd5e48ada)" style="fill: none; stroke-dasharray: 3.7,1.6; stroke-dashoffset: 0; stroke: #cccccc; stroke-opacity: 0.7"/>
</g>
<g id="text_61">
<text style="font-size: 11px; font-family: &quot;Liberation Sans&quot;, sans-serif; text-anchor: middle; fill: #262626" x="616.040" y="694.342" transform="rotate(-0 616.040 694.342)">150</text>
</g>
</g>
<g id="xtick_25">
<g id="line2d_54">
<path d="M 679.710 676.870
L 679.710 384.715
" clip-path="url(#pccd5e48ada)" style="fill: none; stroke-dasharray: 3.7,1.6; stroke-dashoffset: 0; stroke: #cccccc; stroke-opacity: 0.7"/>
</g>
<g id="text_62">
<text style="font-size: 11px; font-family: &quot;Liberation Sans&quot;, sans-serif; text-anchor: middle; fill: #262626" x="679.710" y="694.342" transform="rotate(-0 679.710 694.342)">200</text>
</g>
</g>
<g id="text_63">
<text style="font-size: 12px; font-family: &quot;Liberation Sans&quot;, sans-serif; text-anchor: middle; fill: #262626" x="561.411" y="709.321" transform="rotate(-0 561.411 709.321)">Observed Precipitation (mm)</text>
</g>
</g>
<g id="matplotlib.axis_10">
<g id="ytick_22">
<g id="line2d_55">
<path d="M 411.390 663.591
L 711.431 663.591
" clip-path="url(#pccd5e48ada)" style="fill: none; stroke-dasharray: 3.7,1.6; stroke-dashoffset: 0; stroke: #cccccc; stroke-opacity: 0.7"/>
</g>
<g id="text_64">
<text style="font-size: 11px; font-family: &quot;Liberation Sans&quot;, sans-serif; text-anchor: end; fill: #262626" x="401.890" y="667.576" transform="rotate(-0 401.890 667.576)">0</text>
</g>
</g>
<g id="ytick_23">
<g id="line2d_56">
<path d="M 411.390 602.081
L 711.431 602.081
" clip-path="url(#pccd5e48ada)" style="fill: none; stroke-dasharray: 3.7,1.6; stroke-dashoffset: 0; stroke: #cccccc; stroke-opacity: 0.7"/>
</g>
<g id="text_65">
<text style="font-size: 11px; font-family: &quot;Liberation Sans&quot;, sans-serif; text-anchor: end; fill: #262626" x="401.890" y="606.067" transform="rotate(-0 401.890 606.067)">50</text>
</g>
</g>
<g id="ytick_24">
<g id="line2d_57">
<path d="M 411.390 540.572
L 711.431 540.572
" clip-path="url(#pccd5e48ada)" style="fill: none; stroke-dasharray: 3.7,1.6; stroke-dashoffset: 0; stroke: #cccccc; stroke-opacity: 0.7"/>
</g>
<g id="text_66">
<text style="font-size: 11px; font-family: &quot;Liberation Sans&quot;, sans-serif; text-anchor: end; fill: #262626" x="401.890" y="544.558" transform="rotate(-0 401.890 544.558)">100</text>
</g>
</g>
<g id="ytick_25">
<g id="line2d_58">
<path d="M 411.390 479.063
L 711.431 479.063
" clip-path="url(#pccd5e48ada)" style="fill: none; stroke-dasharray: 3.7,1.6; stroke-dashoffset: 0; stroke: #cccccc; stroke-opacity: 0.7"/>
</g>
<g id="text_67">
<text style="font-size: 11px; font-family: &quot;Liberation Sans&quot;, sans-serif; text-anchor: end; fill: #262626" x="401.890" y="483.049" transform="rotate(-0 401.890 483.049)">150</text>
</g>
</g>
<g id="ytick_26">
<g id="line2d_59">
<path d="M 411.390 417.554
L 711.431 417.554
" clip-path="url(#pccd5e48ada)" style="fill: none; stroke-dasharray: 3.7,1.6; stroke-dashoffset: 0; stroke: #cccccc; stroke-opacity: 0.7"/>
</g>
<g id="text_68">
<text style="font-size: 11px; font-family: &quot;Liberation Sans&quot;, sans-serif; text-anchor: end; fill: #262626" x="401.890" y="421.540" transform="rotate(-0 401.890 421.540)">200</text>
</g>
</g>
<g id="text_69">
<text style="font-size: 12px; font-family: &quot;Liberation Sans&quot;, sans-serif; text-anchor: middle; fill: #262626" x="377.049" y="530.793" transform="rotate(-90 377.049 530.793)">Forecasted Rain (mm)</text>
</g>
</g>
<g id="PathCollection_5">
<g clip-path="url(#pccd5e48ada)">
<use href="#m00bd419677" x="425.029" y="663.591" style="fill: #0000ff; fill-opacity: 0.6; stroke: #1a1a1a; stroke-opacity: 0.6"/>
<use href="#m00bd419677" x="425.029" y="663.591" style="fill: #0000ff; fill-opacity: 0.6; stroke: #1a1a1a; stroke-opacity: 0.6"/>
<use href="#m00bd419677" x="425.029" y="663.591" style="fill: #0000ff; fill-opacity: 0.6; stroke: #1a1a1a; stroke-opacity: 0.6"/>
<use href="#m00bd419677" x="426.302" y="663.591" style="fill: #0000ff; fill-opacity: 0.6; stroke: #1a1a1a; stroke-opacity: 0.6"/>
<use href="#m00bd419677" x="433.560" y="662.483" style="fill: #0000ff; fill-opacity: 0.6; stroke: #1a1a1a; stroke-opacity: 0.6"/>
<use href="#m00bd419677" x="437.126" y="661.745" style="fill: #0000ff; fill-opacity: 0.6; stroke: #1a1a1a; stroke-opacity: 0.6"/>
<use href="#m00bd419677" x="442.602" y="652.273" style="fill: #0000ff; fill-opacity: 0.6; stroke: #1a1a1a; stroke-opacity: 0.6"/>
<use href="#m00bd419677" x="445.785" y="662.237" style="fill: #0000ff; fill-opacity: 0.6; stroke: #1a1a1a; stroke-opacity: 0.6"/>
<use href="#m00bd419677" x="447.568" y="663.098" style="fill: #0000ff; fill-opacity: 0.6; stroke: #1a1a1a; stroke-opacity: 0.6"/>
<use href="#m00bd419677" x="454.572" y="626.070" style="fill: #0000ff; fill-opacity: 0.6; stroke: #1a1a1a; stroke-opacity: 0.6"/>
<use href="#m00bd419677" x="455.463" y="642.185" style="fill: #0000ff; fill-opacity: 0.6; stroke: #1a1a1a; stroke-opacity: 0.6"/>
<use href="#m00bd419677" x="458.137" y="657.071" style="fill: #0000ff; fill-opacity: 0.6; stroke: #1a1a1a; stroke-opacity: 0.6"/>
<use href="#m00bd419677" x="472.527" y="658.793" style="fill: #0000ff; fill-opacity: 0.6; stroke: #1a1a1a; stroke-opacity: 0.6"/>
<use href="#m00bd419677" x="499.141" y="599.129" style="fill: #0000ff; fill-opacity: 0.6; stroke: #1a1a1a; stroke-opacity: 0.6"/>
<use href="#m00bd419677" x="500.414" y="397.994" style="fill: #0000ff; fill-opacity: 0.6; stroke: #1a1a1a; stroke-opacity: 0.6"/>
<use href="#m00bd419677" x="503.980" y="607.986" style="fill: #0000ff; fill-opacity: 0.6; stroke: #1a1a1a; stroke-opacity: 0.6"/>
<use href="#m00bd419677" x="520.025" y="658.301" style="fill: #0000ff; fill-opacity: 0.6; stroke: #1a1a1a; stroke-opacity: 0.6"/>
<use href="#m00bd419677" x="538.744" y="640.094" style="fill: #0000ff; fill-opacity: 0.6; stroke: #1a1a1a; stroke-opacity: 0.6"/>
<use href="#m00bd419677" x="546.639" y="629.392" style="fill: #0000ff; fill-opacity: 0.6; stroke: #1a1a1a; stroke-opacity: 0.6"/>
<use href="#m00bd419677" x="566.886" y="653.011" style="fill: #0000ff; fill-opacity: 0.6; stroke: #1a1a1a; stroke-opacity: 0.6"/>
<use href="#m00bd419677" x="630.556" y="566.529" style="fill: #0000ff; fill-opacity: 0.6; stroke: #1a1a1a; stroke-opacity: 0.6"/>
<use href="#m00bd419677" x="697.792" y="571.450" style="fill: #0000ff; fill-opacity: 0.6; stroke: #1a1a1a; stroke-opacity: 0.6"/>
</g>
</g>
<g id="line2d_60">
<path d="M 425.029 663.591
L 697.792 400.086
" clip-path="url(#pccd5e48ada)" style="fill: none; stroke-dasharray: 7.4,3.2; stroke-dashoffset: 0; stroke: #1a1a1a; stroke-width: 2"/>
</g>
<g id="line2d_61">
<path d="M 425.029 655.188
L 697.792 552.422
" clip-path="url(#pccd5e48ada)" style="fill: none; stroke: #c44e52; stroke-width: 2; stroke-linecap: round"/>
</g>
<g id="patch_23">
<path d="M 411.390 676.870
L 411.390 384.715
" style="fill: none; stroke: #cccccc; stroke-width: 1.25; stroke-linejoin: miter; stroke-linecap: square"/>
</g>
<g id="patch_24">
<path d="M 711.431 676.870
L 711.431 384.715
" style="fill: none; stroke: #cccccc; stroke-width: 1.25; stroke-linejoin: miter; stroke-linecap: square"/>
</g>
<g id="patch_25">
<path d="M 411.390 676.870
L 711.431 676.870
" style="fill: none; stroke: #cccccc; stroke-width: 1.25; stroke-linejoin: miter; stroke-linecap: square"/>
</g>
<g id="patch_26">
<path d="M 411.390 384.715
L 711.431 384.715
" style="fill: none; stroke: #cccccc; stroke-width: 1.25; stroke-linejoin: miter; stroke-linecap: square"/>
</g>
<g id="text_70">
<text style="font-weight: 700; font-size: 12px; font-family: &quot;Liberation Sans&quot;, sans-serif; fill: #262626" transform="translate(426.392 422.626)">Correlation: 0.46</text>
<text style="font-weight: 700; font-size: 12px; font-family: &quot;Liberation Sans&quot;, sans-serif; fill: #262626" transform="translate(426.392 437.012)">y = 0.39x + 6.83</text>
</g>
<g id="text_71">
<text style="font-size: 14px; font-family: &quot;Liberation Sans&quot;, sans-serif; text-anchor: start; fill: #262626" x="411.390" y="378.715" transform="rotate(-0 411.390 378.715)">(e) Thompson</text>
</g>
</g>
<g id="axes_6">
<g id="patch_27">
<path d="M 767.107 676.870
L 1067.148 676.870
L 1067.148 384.715
L 767.107 384.715
z
" style="fill: #ffffff"/>
</g>
<g id="matplotlib.axis_11">
<g id="xtick_26">
<g id="line2d_62">
<path d="M 780.746 676.870
L 780.746 384.715
" clip-path="url(#p912fd4ceb7)" style="fill: none; stroke-dasharray: 3.7,1.6; stroke-dashoffset: 0; stroke: #cccccc; stroke-opacity: 0.7"/>
</g>
<g id="text_72">
<text style="font-size: 11px; font-family: &quot;Liberation Sans&quot;, sans-serif; text-anchor: middle; fill: #262626" x="780.746" y="694.342" transform="rotate(-0 780.746 694.342)">0</text>
</g>
</g>
<g id="xtick_27">
<g id="line2d_63">
<path d="M 844.416 676.870
L 844.416 384.715
" clip-path="url(#p912fd4ceb7)" style="fill: none; stroke-dasharray: 3.7,1.6; stroke-dashoffset: 0; stroke: #cccccc; stroke-opacity: 0.7"/>
</g>
<g id="text_73">
<text style="font-size: 11px; font-family: &quot;Liberation Sans&quot;, sans-serif; text-anchor: middle; fill: #262626" x="844.416" y="694.342" transform="rotate(-0 844.416 694.342)">50</text>
</g>
</g>
<g id="xtick_28">
<g id="line2d_64">
<path d="M 908.086 676.870
L 908.086 384.715
" clip-path="url(#p912fd4ceb7)" style="fill: none; stroke-dasharray: 3.7,1.6; stroke-dashoffset: 0; stroke: #cccccc; stroke-opacity: 0.7"/>
</g>
<g id="text_74">
<text style="font-size: 11px; font-family: &quot;Liberation Sans&quot;, sans-serif; text-anchor: middle; fill: #262626" x="908.086" y="694.342" transform="rotate(-0 908.086 694.342)">100</text>
</g>
</g>
<g id="xtick_29">
<g id="line2d_65">
<path d="M 971.757 676.870
L 971.757 384.715
" clip-path="url(#p912fd4ceb7)" style="fill: none; stroke-dasharray: 3.7,1.6; stroke-dashoffset: 0; stroke: #cccccc; stroke-opacity: 0.7"/>
</g>
<g id="text_75">
<text style="font-size: 11px; font-family: &quot;Liberation Sans&quot;, sans-serif; text-anchor: middle; fill: #262626" x="971.757" y="694.342" transform="rotate(-0 971.757 694.342)">150</text>
</g>
</g>
<g id="xtick_30">
<g id="line2d_66">
<path d="M 1035.427 676.870
L 1035.427 384.715
" clip-path="url(#p912fd4ceb7)" style="fill: none; stroke-dasharray: 3.7,1.6; stroke-dashoffset: 0; stroke: #cccccc; stroke-opacity: 0.7"/>
</g>
<g id="text_76">
<text style="font-size: 11px; font-family: &quot;Liberation Sans&quot;, sans-serif; text-anchor: middle; fill: #262626" x="1035.427" y="694.342" transform="rotate(-0 1035.427 694.342)">200</text>
</g>
</g>
<g id="text_77">
<text style="font-size: 12px; font-family: &quot;Liberation Sans&quot;, sans-serif; text-anchor: middle; fill: #262626" x="917.127" y="709.321" transform="rotate(-0 917.127 709.321)">Observed Precipitation (mm)</text>
</g>
</g>
<g id="matplotlib.axis_12">
<g id="ytick_27">
<g id="line2d_67">
<path d="M 767.107 663.591
L 1067.148 663.591
" clip-path="url(#p912fd4ceb7)" style="fill: none; stroke-dasharray: 3.7,1.6; stroke-dashoffset: 0; stroke: #cccccc; stroke-opacity: 0.7"/>
</g>
<g id="text_78">
<text style="font-size: 11px; font-family: &quot;Liberation Sans&quot;, sans-serif; text-anchor: end; fill: #262626" x="757.607" y="667.576" transform="rotate(-0 757.607 667.576)">0</text>
</g>
</g>
<g id="ytick_28">
<g id="line2d_68">
<path d="M 767.107 601.593
L 1067.148 601.593
" clip-path="url(#p912fd4ceb7)" style="fill: none; stroke-dasharray: 3.7,1.6; stroke-dashoffset: 0; stroke: #cccccc; stroke-opacity: 0.7"/>
</g>
<g id="text_79">
<text style="font-size: 11px; font-family: &quot;Liberation Sans&quot;, sans-serif; text-anchor: end; fill: #262626" x="757.607" y="605.579" transform="rotate(-0 757.607 605.579)">50</text>
</g>
</g>
<g id="ytick_29">
<g id="line2d_69">
<path d="M 767.107 539.596
L 1067.148 539.596
" clip-path="url(#p912fd4ceb7)" style="fill: none; stroke-dasharray: 3.7,1.6; stroke-dashoffset: 0; stroke: #cccccc; stroke-opacity: 0.7"/>
</g>
<g id="text_80">
<text style="font-size: 11px; font-family: &quot;Liberation Sans&quot;, sans-serif; text-anchor: end; fill: #262626" x="757.607" y="543.582" transform="rotate(-0 757.607 543.582)">100</text>
</g>
</g>
<g id="ytick_30">
<g id="line2d_70">
<path d="M 767.107 477.599
L 1067.148 477.599
" clip-path="url(#p912fd4ceb7)" style="fill: none; stroke-dasharray: 3.7,1.6; stroke-dashoffset: 0; stroke: #cccccc; stroke-opacity: 0.7"/>
</g>
<g id="text_81">
<text style="font-size: 11px; font-family: &quot;Liberation Sans&quot;, sans-serif; text-anchor: end; fill: #262626" x="757.607" y="481.585" transform="rotate(-0 757.607 481.585)">150</text>
</g>
</g>
<g id="ytick_31">
<g id="line2d_71">
<path d="M 767.107 415.602
L 1067.148 415.602
" clip-path="url(#p912fd4ceb7)" style="fill: none; stroke-dasharray: 3.7,1.6; stroke-dashoffset: 0; stroke: #cccccc; stroke-opacity: 0.7"/>
</g>
<g id="text_82">
<text style="font-size: 11px; font-family: &quot;Liberation Sans&quot;, sans-serif; text-anchor: end; fill: #262626" x="757.607" y="419.587" transform="rotate(-0 757.607 419.587)">200</text>
</g>
</g>
<g id="text_83">
<text style="font-size: 12px; font-family: &quot;Liberation Sans&quot;, sans-serif; text-anchor: middle; fill: #262626" x="732.766" y="530.793" transform="rotate(-90 732.766 530.793)">Forecasted Rain (mm)</text>
</g>
</g>
<g id="PathCollection_6">
<g clip-path="url(#p912fd4ceb7)">
<use href="#m00bd419677" x="780.746" y="663.591" style="fill: #0000ff; fill-opacity: 0.6; stroke: #1a1a1a; stroke-opacity: 0.6"/>
<use href="#m00bd419677" x="780.746" y="663.591" style="fill: #0000ff; fill-opacity: 0.6; stroke: #1a1a1a; stroke-opacity: 0.6"/>
<use href="#m00bd419677" x="780.746" y="663.591" style="fill: #0000ff; fill-opacity: 0.6; stroke: #1a1a1a; stroke-opacity: 0.6"/>
<use href="#m00bd419677" x="782.019" y="663.591" style="fill: #0000ff; fill-opacity: 0.6; stroke: #1a1a1a; stroke-opacity: 0.6"/>
<use href="#m00bd419677" x="789.277" y="640.528" style="fill: #0000ff; fill-opacity: 0.6; stroke: #1a1a1a; stroke-opacity: 0.6"/>
<use href="#m00bd419677" x="792.843" y="662.971" style="fill: #0000ff; fill-opacity: 0.6; stroke: #1a1a1a; stroke-opacity: 0.6"/>
<use href="#m00bd419677" x="798.319" y="658.631" style="fill: #0000ff; fill-opacity: 0.6; stroke: #1a1a1a; stroke-opacity: 0.6"/>
<use href="#m00bd419677" x="801.502" y="662.599" style="fill: #0000ff; fill-opacity: 0.6; stroke: #1a1a1a; stroke-opacity: 0.6"/>
<use href="#m00bd419677" x="803.285" y="663.467" style="fill: #0000ff; fill-opacity: 0.6; stroke: #1a1a1a; stroke-opacity: 0.6"/>
<use href="#m00bd419677" x="810.289" y="657.515" style="fill: #0000ff; fill-opacity: 0.6; stroke: #1a1a1a; stroke-opacity: 0.6"/>
<use href="#m00bd419677" x="811.180" y="595.890" style="fill: #0000ff; fill-opacity: 0.6; stroke: #1a1a1a; stroke-opacity: 0.6"/>
<use href="#m00bd419677" x="813.854" y="662.971" style="fill: #0000ff; fill-opacity: 0.6; stroke: #1a1a1a; stroke-opacity: 0.6"/>
<use href="#m00bd419677" x="828.244" y="639.908" style="fill: #0000ff; fill-opacity: 0.6; stroke: #1a1a1a; stroke-opacity: 0.6"/>
<use href="#m00bd419677" x="854.858" y="612.505" style="fill: #0000ff; fill-opacity: 0.6; stroke: #1a1a1a; stroke-opacity: 0.6"/>
<use href="#m00bd419677" x="856.131" y="518.889" style="fill: #0000ff; fill-opacity: 0.6; stroke: #1a1a1a; stroke-opacity: 0.6"/>
<use href="#m00bd419677" x="859.697" y="626.144" style="fill: #0000ff; fill-opacity: 0.6; stroke: #1a1a1a; stroke-opacity: 0.6"/>
<use href="#m00bd419677" x="875.742" y="628.500" style="fill: #0000ff; fill-opacity: 0.6; stroke: #1a1a1a; stroke-opacity: 0.6"/>
<use href="#m00bd419677" x="894.461" y="637.800" style="fill: #0000ff; fill-opacity: 0.6; stroke: #1a1a1a; stroke-opacity: 0.6"/>
<use href="#m00bd419677" x="902.356" y="642.883" style="fill: #0000ff; fill-opacity: 0.6; stroke: #1a1a1a; stroke-opacity: 0.6"/>
<use href="#m00bd419677" x="922.603" y="597.130" style="fill: #0000ff; fill-opacity: 0.6; stroke: #1a1a1a; stroke-opacity: 0.6"/>
<use href="#m00bd419677" x="986.273" y="513.557" style="fill: #0000ff; fill-opacity: 0.6; stroke: #1a1a1a; stroke-opacity: 0.6"/>
<use href="#m00bd419677" x="1053.509" y="633.088" style="fill: #0000ff; fill-opacity: 0.6; stroke: #1a1a1a; stroke-opacity: 0.6"/>
</g>
</g>
<g id="line2d_72">
<path d="M 780.746 663.591
L 1053.509 397.994
" clip-path="url(#p912fd4ceb7)" style="fill: none; stroke-dasharray: 7.4,3.2; stroke-dashoffset: 0; stroke: #1a1a1a; stroke-width: 2"/>
</g>
<g id="line2d_73">
<path d="M 780.746 654.998
L 1053.509 562.039
" clip-path="url(#p912fd4ceb7)" style="fill: none; stroke: #c44e52; stroke-width: 2; stroke-linecap: round"/>
</g>
<g id="patch_28">
<path d="M 767.107 676.870
L 767.107 384.715
" style="fill: none; stroke: #cccccc; stroke-width: 1.25; stroke-linejoin: miter; stroke-linecap: square"/>
</g>
<g id="patch_29">
<path d="M 1067.148 676.870
L 1067.148 384.715
" style="fill: none; stroke: #cccccc; stroke-width: 1.25; stroke-linejoin: miter; stroke-linecap: square"/>
</g>
<g id="patch_30">
<path d="M 767.107 676.870
L 1067.148 676.870
" style="fill: none; stroke: #cccccc; stroke-width: 1.25; stroke-linejoin: miter; stroke-linecap: square"/>
</g>
<g id="patch_31">
<path d="M 767.107 384.715
L 1067.148 384.715
" style="fill: none; stroke: #cccccc; stroke-width: 1.25; stroke-linejoin: miter; stroke-linecap: square"/>
</g>
<g id="text_84">
<text style="font-weight: 700; font-size: 12px; font-family: &quot;Liberation Sans&quot;, sans-serif; fill: #262626" transform="translate(782.109 422.626)">Correlation: 0.57</text>
<text style="font-weight: 700; font-size: 12px; font-family: &quot;Liberation Sans&quot;, sans-serif; fill: #262626" transform="translate(782.109 437.012)">y = 0.35x + 6.93</text>
</g>
<g id="text_85">
<text style="font-size: 14px; font-family: &quot;Liberation Sans&quot;, sans-serif; text-anchor: start; fill: #262626" x="767.107" y="378.715" transform="rotate(-0 767.107 378.715)">(f) Milbrandt</text>
</g>
</g>
<g id="axes_7">
<g id="patch_32">
<path d="M 55.674 1032.48
L 355.714 1032.48
L 355.714 740.324
L 55.674 740.324
z
" style="fill: #ffffff"/>
</g>
<g id="matplotlib.axis_13">
<g id="xtick_31">
<g id="line2d_74">
<path d="M 69.312 1032.48
L 69.312 740.324
" clip-path="url(#p9739624dae)" style="fill: none; stroke-dasharray: 3.7,1.6; stroke-dashoffset: 0; stroke: #cccccc; stroke-opacity: 0.7"/>
</g>
<g id="text_86">
<text style="font-size: 11px; font-family: &quot;Liberation Sans&quot;, sans-serif; text-anchor: middle; fill: #262626" x="69.312" y="1049.951" transform="rotate(-0 69.312 1049.951)">0</text>
</g>
</g>
<g id="xtick_32">
<g id="line2d_75">
<path d="M 132.982 1032.48
L 132.982 740.324
" clip-path="url(#p9739624dae)" style="fill: none; stroke-dasharray: 3.7,1.6; stroke-dashoffset: 0; stroke: #cccccc; stroke-opacity: 0.7"/>
</g>
<g id="text_87">
<text style="font-size: 11px; font-family: &quot;Liberation Sans&quot;, sans-serif; text-anchor: middle; fill: #262626" x="132.982" y="1049.951" transform="rotate(-0 132.982 1049.951)">50</text>
</g>
</g>
<g id="xtick_33">
<g id="line2d_76">
<path d="M 196.652 1032.48
L 196.652 740.324
" clip-path="url(#p9739624dae)" style="fill: none; stroke-dasharray: 3.7,1.6; stroke-dashoffset: 0; stroke: #cccccc; stroke-opacity: 0.7"/>
</g>
<g id="text_88">
<text style="font-size: 11px; font-family: &quot;Liberation Sans&quot;, sans-serif; text-anchor: middle; fill: #262626" x="196.652" y="1049.951" transform="rotate(-0 196.652 1049.951)">100</text>
</g>
</g>
<g id="xtick_34">
<g id="line2d_77">
<path d="M 260.323 1032.48
L 260.323 740.324
" clip-path="url(#p9739624dae)" style="fill: none; stroke-dasharray: 3.7,1.6; stroke-dashoffset: 0; stroke: #cccccc; stroke-opacity: 0.7"/>
</g>
<g id="text_89">
<text style="font-size: 11px; font-family: &quot;Liberation Sans&quot;, sans-serif; text-anchor: middle; fill: #262626" x="260.323" y="1049.951" transform="rotate(-0 260.323 1049.951)">150</text>
</g>
</g>
<g id="xtick_35">
<g id="line2d_78">
<path d="M 323.993 1032.48
L 323.993 740.324
" clip-path="url(#p9739624dae)" style="fill: none; stroke-dasharray: 3.7,1.6; stroke-dashoffset: 0; stroke: #cccccc; stroke-opacity: 0.7"/>
</g>
<g id="text_90">
<text style="font-size: 11px; font-family: &quot;Liberation Sans&quot;, sans-serif; text-anchor: middle; fill: #262626" x="323.993" y="1049.951" transform="rotate(-0 323.993 1049.951)">200</text>
</g>
</g>
<g id="text_91">
<text style="font-size: 12px; font-family: &quot;Liberation Sans&quot;, sans-serif; text-anchor: middle; fill: #262626" x="205.694" y="1064.930" transform="rotate(-0 205.694 1064.930)">Observed Precipitation (mm)</text>
</g>
</g>
<g id="matplotlib.axis_14">
<g id="ytick_32">
<g id="line2d_79">
<path d="M 55.674 1019.200
L 355.714 1019.200
" clip-path="url(#p9739624dae)" style="fill: none; stroke-dasharray: 3.7,1.6; stroke-dashoffset: 0; stroke: #cccccc; stroke-opacity: 0.7"/>
</g>
<g id="text_92">
<text style="font-size: 11px; font-family: &quot;Liberation Sans&quot;, sans-serif; text-anchor: end; fill: #262626" x="46.174" y="1023.185" transform="rotate(-0 46.174 1023.185)">0</text>
</g>
</g>
<g id="ytick_33">
<g id="line2d_80">
<path d="M 55.674 957.202
L 355.714 957.202
" clip-path="url(#p9739624dae)" style="fill: none; stroke-dasharray: 3.7,1.6; stroke-dashoffset: 0; stroke: #cccccc; stroke-opacity: 0.7"/>
</g>
<g id="text_93">
<text style="font-size: 11px; font-family: &quot;Liberation Sans&quot;, sans-serif; text-anchor: end; fill: #262626" x="46.174" y="961.188" transform="rotate(-0 46.174 961.188)">50</text>
</g>
</g>
<g id="ytick_34">
<g id="line2d_81">
<path d="M 55.674 895.205
L 355.714 895.205
" clip-path="url(#p9739624dae)" style="fill: none; stroke-dasharray: 3.7,1.6; stroke-dashoffset: 0; stroke: #cccccc; stroke-opacity: 0.7"/>
</g>
<g id="text_94">
<text style="font-size: 11px; font-family: &quot;Liberation Sans&quot;, sans-serif; text-anchor: end; fill: #262626" x="46.174" y="899.191" transform="rotate(-0 46.174 899.191)">100</text>
</g>
</g>
<g id="ytick_35">
<g id="line2d_82">
<path d="M 55.674 833.208
L 355.714 833.208
" clip-path="url(#p9739624dae)" style="fill: none; stroke-dasharray: 3.7,1.6; stroke-dashoffset: 0; stroke: #cccccc; stroke-opacity: 0.7"/>
</g>
<g id="text_95">
<text style="font-size: 11px; font-family: &quot;Liberation Sans&quot;, sans-serif; text-anchor: end; fill: #262626" x="46.174" y="837.194" transform="rotate(-0 46.174 837.194)">150</text>
</g>
</g>
<g id="ytick_36">
<g id="line2d_83">
<path d="M 55.674 771.211
L 355.714 771.211
" clip-path="url(#p9739624dae)" style="fill: none; stroke-dasharray: 3.7,1.6; stroke-dashoffset: 0; stroke: #cccccc; stroke-opacity: 0.7"/>
</g>
<g id="text_96">
<text style="font-size: 11px; font-family: &quot;Liberation Sans&quot;, sans-serif; text-anchor: end; fill: #262626" x="46.174" y="775.197" transform="rotate(-0 46.174 775.197)">200</text>
</g>
</g>
<g id="text_97">
<text style="font-size: 12px; font-family: &quot;Liberation Sans&quot;, sans-serif; text-anchor: middle; fill: #262626" x="21.332" y="886.402" transform="rotate(-90 21.332 886.402)">Forecasted Rain (mm)</text>
</g>
</g>
<g id="PathCollection_7">
<g clip-path="url(#p9739624dae)">
<use href="#m00bd419677" x="69.312" y="1019.200" style="fill: #0000ff; fill-opacity: 0.6; stroke: #1a1a1a; stroke-opacity: 0.6"/>
<use href="#m00bd419677" x="69.312" y="1019.200" style="fill: #0000ff; fill-opacity: 0.6; stroke: #1a1a1a; stroke-opacity: 0.6"/>
<use href="#m00bd419677" x="69.312" y="1019.200" style="fill: #0000ff; fill-opacity: 0.6; stroke: #1a1a1a; stroke-opacity: 0.6"/>
<use href="#m00bd419677" x="70.585" y="1019.200" style="fill: #0000ff; fill-opacity: 0.6; stroke: #1a1a1a; stroke-opacity: 0.6"/>
<use href="#m00bd419677" x="77.844" y="1018.208" style="fill: #0000ff; fill-opacity: 0.6; stroke: #1a1a1a; stroke-opacity: 0.6"/>
<use href="#m00bd419677" x="81.409" y="1019.076" style="fill: #0000ff; fill-opacity: 0.6; stroke: #1a1a1a; stroke-opacity: 0.6"/>
<use href="#m00bd419677" x="86.885" y="1018.456" style="fill: #0000ff; fill-opacity: 0.6; stroke: #1a1a1a; stroke-opacity: 0.6"/>
<use href="#m00bd419677" x="90.068" y="1018.828" style="fill: #0000ff; fill-opacity: 0.6; stroke: #1a1a1a; stroke-opacity: 0.6"/>
<use href="#m00bd419677" x="91.851" y="1019.200" style="fill: #0000ff; fill-opacity: 0.6; stroke: #1a1a1a; stroke-opacity: 0.6"/>
<use href="#m00bd419677" x="98.855" y="1011.636" style="fill: #0000ff; fill-opacity: 0.6; stroke: #1a1a1a; stroke-opacity: 0.6"/>
<use href="#m00bd419677" x="99.746" y="945.423" style="fill: #0000ff; fill-opacity: 0.6; stroke: #1a1a1a; stroke-opacity: 0.6"/>
<use href="#m00bd419677" x="102.420" y="1017.092" style="fill: #0000ff; fill-opacity: 0.6; stroke: #1a1a1a; stroke-opacity: 0.6"/>
<use href="#m00bd419677" x="116.810" y="1009.776" style="fill: #0000ff; fill-opacity: 0.6; stroke: #1a1a1a; stroke-opacity: 0.6"/>
<use href="#m00bd419677" x="143.424" y="1002.832" style="fill: #0000ff; fill-opacity: 0.6; stroke: #1a1a1a; stroke-opacity: 0.6"/>
<use href="#m00bd419677" x="144.697" y="914.052" style="fill: #0000ff; fill-opacity: 0.6; stroke: #1a1a1a; stroke-opacity: 0.6"/>
<use href="#m00bd419677" x="148.263" y="950.755" style="fill: #0000ff; fill-opacity: 0.6; stroke: #1a1a1a; stroke-opacity: 0.6"/>
<use href="#m00bd419677" x="164.308" y="1018.704" style="fill: #0000ff; fill-opacity: 0.6; stroke: #1a1a1a; stroke-opacity: 0.6"/>
<use href="#m00bd419677" x="183.027" y="989.317" style="fill: #0000ff; fill-opacity: 0.6; stroke: #1a1a1a; stroke-opacity: 0.6"/>
<use href="#m00bd419677" x="190.922" y="1012.132" style="fill: #0000ff; fill-opacity: 0.6; stroke: #1a1a1a; stroke-opacity: 0.6"/>
<use href="#m00bd419677" x="211.169" y="1003.080" style="fill: #0000ff; fill-opacity: 0.6; stroke: #1a1a1a; stroke-opacity: 0.6"/>
<use href="#m00bd419677" x="274.839" y="955.219" style="fill: #0000ff; fill-opacity: 0.6; stroke: #1a1a1a; stroke-opacity: 0.6"/>
<use href="#m00bd419677" x="342.075" y="974.934" style="fill: #0000ff; fill-opacity: 0.6; stroke: #1a1a1a; stroke-opacity: 0.6"/>
</g>
</g>
<g id="line2d_84">
<path d="M 69.312 1019.200
L 342.075 753.604
" clip-path="url(#p9739624dae)" style="fill: none; stroke-dasharray: 7.4,3.2; stroke-dashoffset: 0; stroke: #1a1a1a; stroke-width: 2"/>
</g>
<g id="line2d_85">
<path d="M 69.312 1012.851
L 342.075 957.076
" clip-path="url(#p9739624dae)" style="fill: none; stroke: #c44e52; stroke-width: 2; stroke-linecap: round"/>
</g>
<g id="patch_33">
<path d="M 55.674 1032.48
L 55.674 740.324
" style="fill: none; stroke: #cccccc; stroke-width: 1.25; stroke-linejoin: miter; stroke-linecap: square"/>
</g>
<g id="patch_34">
<path d="M 355.714 1032.48
L 355.714 740.324
" style="fill: none; stroke: #cccccc; stroke-width: 1.25; stroke-linejoin: miter; stroke-linecap: square"/>
</g>
<g id="patch_35">
<path d="M 55.674 1032.48
L 355.714 1032.48
" style="fill: none; stroke: #cccccc; stroke-width: 1.25; stroke-linejoin: miter; stroke-linecap: square"/>
</g>
<g id="patch_36">
<path d="M 55.674 740.324
L 355.714 740.324
" style="fill: none; stroke: #cccccc; stroke-width: 1.25; stroke-linejoin: miter; stroke-linecap: square"/>
</g>
<g id="text_98">
<text style="font-weight: 700; font-size: 12px; font-family: &quot;Liberation Sans&quot;, sans-serif; fill: #262626" transform="translate(70.676 778.236)">Correlation: 0.49</text>
<text style="font-weight: 700; font-size: 12px; font-family: &quot;Liberation Sans&quot;, sans-serif; fill: #262626" transform="translate(70.676 792.622)">y = 0.21x + 5.12</text>
</g>
<g id="text_99">
<text style="font-size: 14px; font-family: &quot;Liberation Sans&quot;, sans-serif; text-anchor: start; fill: #262626" x="55.674" y="734.324" transform="rotate(-0 55.674 734.324)">(g) WDM6</text>
</g>
</g>
</g>
<defs>
<clipPath id="p3a5844b324">
<rect x="55.674" y="29.106" width="300.040" height="292.155"/>
</clipPath>
<clipPath id="p59430c2ce2">
<rect x="411.390" y="29.106" width="300.040" height="292.155"/>
</clipPath>
<clipPath id="p351b5c5604">
<rect x="767.107" y="29.106" width="300.040" height="292.155"/>
</clipPath>
<clipPath id="p59bc74c339">
<rect x="55.674" y="384.715" width="300.040" height="292.155"/>
</clipPath>
<clipPath id="pccd5e48ada">
<rect x="411.390" y="384.715" width="300.040" height="292.155"/>
</clipPath>
<clipPath id="p912fd4ceb7">
<rect x="767.107" y="384.715" width="300.040" height="292.155"/>
</clipPath>
<clipPath id="p9739624dae">
<rect x="55.674" y="740.324" width="300.040" height="292.155"/>
</clipPath>
</defs>
</svg>

</body></html>
